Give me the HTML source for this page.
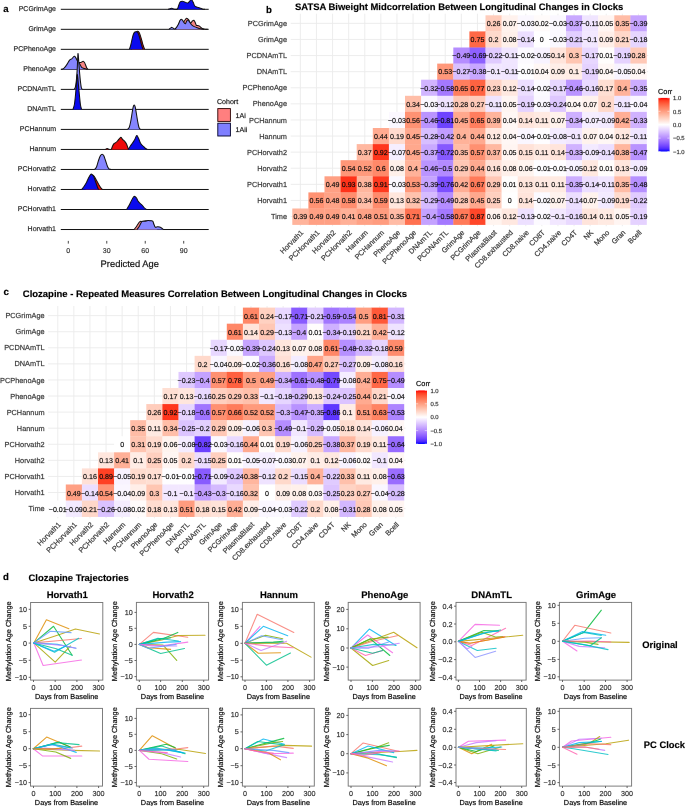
<!DOCTYPE html>
<html><head><meta charset="utf-8"><style>
html,body{margin:0;padding:0;background:#fff;}
svg{display:block;font-family:"Liberation Sans", sans-serif;will-change:transform;}
text{text-rendering:geometricPrecision;stroke:#000;stroke-opacity:0.45;stroke-width:0.35px;}
</style></head><body>
<svg width="685" height="806" viewBox="0 0 685 806">
<rect width="685" height="806" fill="#fff"/>
<text x="265.90" y="12.60" font-size="9.6" text-anchor="start" font-weight="bold" fill="#000">b</text>
<text x="295.00" y="10.20" font-size="9.45" text-anchor="start" font-weight="bold" fill="#000">SATSA Biweight Midcorrelation Between Longitudinal Changes in Clocks</text>
<line x1="300.35" y1="13.69" x2="300.35" y2="226.21" stroke="#ebebeb" stroke-width="0.9"/>
<line x1="316.45" y1="13.69" x2="316.45" y2="226.21" stroke="#ebebeb" stroke-width="0.9"/>
<line x1="332.55" y1="13.69" x2="332.55" y2="226.21" stroke="#ebebeb" stroke-width="0.9"/>
<line x1="348.65" y1="13.69" x2="348.65" y2="226.21" stroke="#ebebeb" stroke-width="0.9"/>
<line x1="364.75" y1="13.69" x2="364.75" y2="226.21" stroke="#ebebeb" stroke-width="0.9"/>
<line x1="380.85" y1="13.69" x2="380.85" y2="226.21" stroke="#ebebeb" stroke-width="0.9"/>
<line x1="396.95" y1="13.69" x2="396.95" y2="226.21" stroke="#ebebeb" stroke-width="0.9"/>
<line x1="413.05" y1="13.69" x2="413.05" y2="226.21" stroke="#ebebeb" stroke-width="0.9"/>
<line x1="429.15" y1="13.69" x2="429.15" y2="226.21" stroke="#ebebeb" stroke-width="0.9"/>
<line x1="445.25" y1="13.69" x2="445.25" y2="226.21" stroke="#ebebeb" stroke-width="0.9"/>
<line x1="461.35" y1="13.69" x2="461.35" y2="226.21" stroke="#ebebeb" stroke-width="0.9"/>
<line x1="477.45" y1="13.69" x2="477.45" y2="226.21" stroke="#ebebeb" stroke-width="0.9"/>
<line x1="493.55" y1="13.69" x2="493.55" y2="226.21" stroke="#ebebeb" stroke-width="0.9"/>
<line x1="509.65" y1="13.69" x2="509.65" y2="226.21" stroke="#ebebeb" stroke-width="0.9"/>
<line x1="525.75" y1="13.69" x2="525.75" y2="226.21" stroke="#ebebeb" stroke-width="0.9"/>
<line x1="541.85" y1="13.69" x2="541.85" y2="226.21" stroke="#ebebeb" stroke-width="0.9"/>
<line x1="557.95" y1="13.69" x2="557.95" y2="226.21" stroke="#ebebeb" stroke-width="0.9"/>
<line x1="574.05" y1="13.69" x2="574.05" y2="226.21" stroke="#ebebeb" stroke-width="0.9"/>
<line x1="590.15" y1="13.69" x2="590.15" y2="226.21" stroke="#ebebeb" stroke-width="0.9"/>
<line x1="606.25" y1="13.69" x2="606.25" y2="226.21" stroke="#ebebeb" stroke-width="0.9"/>
<line x1="622.35" y1="13.69" x2="622.35" y2="226.21" stroke="#ebebeb" stroke-width="0.9"/>
<line x1="638.45" y1="13.69" x2="638.45" y2="226.21" stroke="#ebebeb" stroke-width="0.9"/>
<line x1="290.69" y1="23.35" x2="648.11" y2="23.35" stroke="#ebebeb" stroke-width="0.9"/>
<line x1="290.69" y1="39.45" x2="648.11" y2="39.45" stroke="#ebebeb" stroke-width="0.9"/>
<line x1="290.69" y1="55.55" x2="648.11" y2="55.55" stroke="#ebebeb" stroke-width="0.9"/>
<line x1="290.69" y1="71.65" x2="648.11" y2="71.65" stroke="#ebebeb" stroke-width="0.9"/>
<line x1="290.69" y1="87.75" x2="648.11" y2="87.75" stroke="#ebebeb" stroke-width="0.9"/>
<line x1="290.69" y1="103.85" x2="648.11" y2="103.85" stroke="#ebebeb" stroke-width="0.9"/>
<line x1="290.69" y1="119.95" x2="648.11" y2="119.95" stroke="#ebebeb" stroke-width="0.9"/>
<line x1="290.69" y1="136.05" x2="648.11" y2="136.05" stroke="#ebebeb" stroke-width="0.9"/>
<line x1="290.69" y1="152.15" x2="648.11" y2="152.15" stroke="#ebebeb" stroke-width="0.9"/>
<line x1="290.69" y1="168.25" x2="648.11" y2="168.25" stroke="#ebebeb" stroke-width="0.9"/>
<line x1="290.69" y1="184.35" x2="648.11" y2="184.35" stroke="#ebebeb" stroke-width="0.9"/>
<line x1="290.69" y1="200.45" x2="648.11" y2="200.45" stroke="#ebebeb" stroke-width="0.9"/>
<line x1="290.69" y1="216.55" x2="648.11" y2="216.55" stroke="#ebebeb" stroke-width="0.9"/>
<rect x="485.50" y="15.30" width="16.40" height="16.40" fill="#ffcdbc"/>
<rect x="501.60" y="15.30" width="16.40" height="16.40" fill="#fff2ed"/>
<rect x="517.70" y="15.30" width="16.40" height="16.40" fill="#fbf8ff"/>
<rect x="533.80" y="15.30" width="16.40" height="16.40" fill="#fffbfa"/>
<rect x="549.90" y="15.30" width="16.40" height="16.40" fill="#fbf8ff"/>
<rect x="566.00" y="15.30" width="16.40" height="16.40" fill="#c9a9ff"/>
<rect x="582.10" y="15.30" width="16.40" height="16.40" fill="#f0e5ff"/>
<rect x="598.20" y="15.30" width="16.40" height="16.40" fill="#fff5f2"/>
<rect x="614.30" y="15.30" width="16.40" height="16.40" fill="#ffbca6"/>
<rect x="630.40" y="15.30" width="16.40" height="16.40" fill="#c6a4ff"/>
<rect x="469.40" y="31.40" width="16.40" height="16.40" fill="#ff6846"/>
<rect x="485.50" y="31.40" width="16.40" height="16.40" fill="#ffd9cb"/>
<rect x="501.60" y="31.40" width="16.40" height="16.40" fill="#fff0ea"/>
<rect x="517.70" y="31.40" width="16.40" height="16.40" fill="#ecdeff"/>
<rect x="533.80" y="31.40" width="16.40" height="16.40" fill="#ffffff"/>
<rect x="549.90" y="31.40" width="16.40" height="16.40" fill="#fbf8ff"/>
<rect x="566.00" y="31.40" width="16.40" height="16.40" fill="#e2ceff"/>
<rect x="582.10" y="31.40" width="16.40" height="16.40" fill="#f2e7ff"/>
<rect x="598.20" y="31.40" width="16.40" height="16.40" fill="#ffeee8"/>
<rect x="614.30" y="31.40" width="16.40" height="16.40" fill="#ffd7c9"/>
<rect x="630.40" y="31.40" width="16.40" height="16.40" fill="#e6d5ff"/>
<rect x="453.30" y="47.50" width="16.40" height="16.40" fill="#b58dff"/>
<rect x="469.40" y="47.50" width="16.40" height="16.40" fill="#8d60ff"/>
<rect x="485.50" y="47.50" width="16.40" height="16.40" fill="#e0cbff"/>
<rect x="501.60" y="47.50" width="16.40" height="16.40" fill="#f0e5ff"/>
<rect x="517.70" y="47.50" width="16.40" height="16.40" fill="#fcfaff"/>
<rect x="533.80" y="47.50" width="16.40" height="16.40" fill="#f8f3ff"/>
<rect x="549.90" y="47.50" width="16.40" height="16.40" fill="#ffe4db"/>
<rect x="566.00" y="47.50" width="16.40" height="16.40" fill="#ffc6b2"/>
<rect x="582.10" y="47.50" width="16.40" height="16.40" fill="#e8d7ff"/>
<rect x="598.20" y="47.50" width="16.40" height="16.40" fill="#fffdfc"/>
<rect x="614.30" y="47.50" width="16.40" height="16.40" fill="#e5d2ff"/>
<rect x="630.40" y="47.50" width="16.40" height="16.40" fill="#ffc9b7"/>
<rect x="437.20" y="63.60" width="16.40" height="16.40" fill="#ff987a"/>
<rect x="453.30" y="63.60" width="16.40" height="16.40" fill="#d9c0ff"/>
<rect x="469.40" y="63.60" width="16.40" height="16.40" fill="#c8a7ff"/>
<rect x="485.50" y="63.60" width="16.40" height="16.40" fill="#f2e7ff"/>
<rect x="501.60" y="63.60" width="16.40" height="16.40" fill="#f0e5ff"/>
<rect x="517.70" y="63.60" width="16.40" height="16.40" fill="#fefdff"/>
<rect x="533.80" y="63.60" width="16.40" height="16.40" fill="#fff7f5"/>
<rect x="549.90" y="63.60" width="16.40" height="16.40" fill="#ffeee8"/>
<rect x="566.00" y="63.60" width="16.40" height="16.40" fill="#ffece5"/>
<rect x="582.10" y="63.60" width="16.40" height="16.40" fill="#e5d2ff"/>
<rect x="598.20" y="63.60" width="16.40" height="16.40" fill="#fff7f5"/>
<rect x="614.30" y="63.60" width="16.40" height="16.40" fill="#f8f3ff"/>
<rect x="630.40" y="63.60" width="16.40" height="16.40" fill="#fff7f5"/>
<rect x="421.10" y="79.70" width="16.40" height="16.40" fill="#d1b4ff"/>
<rect x="437.20" y="79.70" width="16.40" height="16.40" fill="#a479ff"/>
<rect x="453.30" y="79.70" width="16.40" height="16.40" fill="#ff7e5e"/>
<rect x="469.40" y="79.70" width="16.40" height="16.40" fill="#ff6341"/>
<rect x="485.50" y="79.70" width="16.40" height="16.40" fill="#ffd3c4"/>
<rect x="501.60" y="79.70" width="16.40" height="16.40" fill="#ffe8e0"/>
<rect x="517.70" y="79.70" width="16.40" height="16.40" fill="#ecdeff"/>
<rect x="533.80" y="79.70" width="16.40" height="16.40" fill="#fcfaff"/>
<rect x="549.90" y="79.70" width="16.40" height="16.40" fill="#e8d7ff"/>
<rect x="566.00" y="79.70" width="16.40" height="16.40" fill="#ba94ff"/>
<rect x="582.10" y="79.70" width="16.40" height="16.40" fill="#e9d9ff"/>
<rect x="598.20" y="79.70" width="16.40" height="16.40" fill="#ffdfd3"/>
<rect x="614.30" y="79.70" width="16.40" height="16.40" fill="#ffb299"/>
<rect x="630.40" y="79.70" width="16.40" height="16.40" fill="#ccadff"/>
<rect x="405.00" y="95.80" width="16.40" height="16.40" fill="#ffbea8"/>
<rect x="421.10" y="95.80" width="16.40" height="16.40" fill="#fbf8ff"/>
<rect x="437.20" y="95.80" width="16.40" height="16.40" fill="#efe3ff"/>
<rect x="453.30" y="95.80" width="16.40" height="16.40" fill="#ffc9b7"/>
<rect x="469.40" y="95.80" width="16.40" height="16.40" fill="#ffcbba"/>
<rect x="485.50" y="95.80" width="16.40" height="16.40" fill="#f0e5ff"/>
<rect x="501.60" y="95.80" width="16.40" height="16.40" fill="#fff5f2"/>
<rect x="517.70" y="95.80" width="16.40" height="16.40" fill="#e5d2ff"/>
<rect x="533.80" y="95.80" width="16.40" height="16.40" fill="#fbf8ff"/>
<rect x="549.90" y="95.80" width="16.40" height="16.40" fill="#dec7ff"/>
<rect x="566.00" y="95.80" width="16.40" height="16.40" fill="#fff7f5"/>
<rect x="582.10" y="95.80" width="16.40" height="16.40" fill="#fff2ed"/>
<rect x="598.20" y="95.80" width="16.40" height="16.40" fill="#ffd9cb"/>
<rect x="614.30" y="95.80" width="16.40" height="16.40" fill="#f0e5ff"/>
<rect x="630.40" y="95.80" width="16.40" height="16.40" fill="#faf6ff"/>
<rect x="388.90" y="111.90" width="16.40" height="16.40" fill="#fbf8ff"/>
<rect x="405.00" y="111.90" width="16.40" height="16.40" fill="#ff9273"/>
<rect x="421.10" y="111.90" width="16.40" height="16.40" fill="#ba94ff"/>
<rect x="437.20" y="111.90" width="16.40" height="16.40" fill="#6e43ff"/>
<rect x="453.30" y="111.90" width="16.40" height="16.40" fill="#ffa88d"/>
<rect x="469.40" y="111.90" width="16.40" height="16.40" fill="#ff7e5e"/>
<rect x="485.50" y="111.90" width="16.40" height="16.40" fill="#ffb49c"/>
<rect x="501.60" y="111.90" width="16.40" height="16.40" fill="#fff7f5"/>
<rect x="517.70" y="111.90" width="16.40" height="16.40" fill="#ffe4db"/>
<rect x="533.80" y="111.90" width="16.40" height="16.40" fill="#ffeae2"/>
<rect x="549.90" y="111.90" width="16.40" height="16.40" fill="#fff2ed"/>
<rect x="566.00" y="111.90" width="16.40" height="16.40" fill="#ceb0ff"/>
<rect x="582.10" y="111.90" width="16.40" height="16.40" fill="#f6eeff"/>
<rect x="598.20" y="111.90" width="16.40" height="16.40" fill="#f3eaff"/>
<rect x="614.30" y="111.90" width="16.40" height="16.40" fill="#ffae95"/>
<rect x="630.40" y="111.90" width="16.40" height="16.40" fill="#d0b2ff"/>
<rect x="372.80" y="128.00" width="16.40" height="16.40" fill="#ffaa90"/>
<rect x="388.90" y="128.00" width="16.40" height="16.40" fill="#ffdbce"/>
<rect x="405.00" y="128.00" width="16.40" height="16.40" fill="#ffa88d"/>
<rect x="421.10" y="128.00" width="16.40" height="16.40" fill="#d7beff"/>
<rect x="437.20" y="128.00" width="16.40" height="16.40" fill="#c19dff"/>
<rect x="453.30" y="128.00" width="16.40" height="16.40" fill="#ffb299"/>
<rect x="469.40" y="128.00" width="16.40" height="16.40" fill="#ffaa90"/>
<rect x="485.50" y="128.00" width="16.40" height="16.40" fill="#ffe8e0"/>
<rect x="501.60" y="128.00" width="16.40" height="16.40" fill="#fff7f5"/>
<rect x="517.70" y="128.00" width="16.40" height="16.40" fill="#faf6ff"/>
<rect x="533.80" y="128.00" width="16.40" height="16.40" fill="#fefdff"/>
<rect x="549.90" y="128.00" width="16.40" height="16.40" fill="#f4ecff"/>
<rect x="566.00" y="128.00" width="16.40" height="16.40" fill="#f2e7ff"/>
<rect x="582.10" y="128.00" width="16.40" height="16.40" fill="#fff2ed"/>
<rect x="598.20" y="128.00" width="16.40" height="16.40" fill="#fff7f5"/>
<rect x="614.30" y="128.00" width="16.40" height="16.40" fill="#ffe8e0"/>
<rect x="630.40" y="128.00" width="16.40" height="16.40" fill="#f0e5ff"/>
<rect x="356.70" y="144.10" width="16.40" height="16.40" fill="#ffb8a1"/>
<rect x="372.80" y="144.10" width="16.40" height="16.40" fill="#ff361c"/>
<rect x="388.90" y="144.10" width="16.40" height="16.40" fill="#f6eeff"/>
<rect x="405.00" y="144.10" width="16.40" height="16.40" fill="#ffa88d"/>
<rect x="421.10" y="144.10" width="16.40" height="16.40" fill="#c9a9ff"/>
<rect x="437.20" y="144.10" width="16.40" height="16.40" fill="#8659ff"/>
<rect x="453.30" y="144.10" width="16.40" height="16.40" fill="#ffbca6"/>
<rect x="469.40" y="144.10" width="16.40" height="16.40" fill="#ff9071"/>
<rect x="485.50" y="144.10" width="16.40" height="16.40" fill="#ffb8a1"/>
<rect x="501.60" y="144.10" width="16.40" height="16.40" fill="#fff5f2"/>
<rect x="517.70" y="144.10" width="16.40" height="16.40" fill="#ffe2d8"/>
<rect x="533.80" y="144.10" width="16.40" height="16.40" fill="#ffeae2"/>
<rect x="549.90" y="144.10" width="16.40" height="16.40" fill="#ffe4db"/>
<rect x="566.00" y="144.10" width="16.40" height="16.40" fill="#d0b2ff"/>
<rect x="582.10" y="144.10" width="16.40" height="16.40" fill="#f3eaff"/>
<rect x="598.20" y="144.10" width="16.40" height="16.40" fill="#ecdeff"/>
<rect x="614.30" y="144.10" width="16.40" height="16.40" fill="#ffb69e"/>
<rect x="630.40" y="144.10" width="16.40" height="16.40" fill="#b892ff"/>
<rect x="340.60" y="160.20" width="16.40" height="16.40" fill="#ff9678"/>
<rect x="356.70" y="160.20" width="16.40" height="16.40" fill="#ff9a7c"/>
<rect x="372.80" y="160.20" width="16.40" height="16.40" fill="#ff8969"/>
<rect x="388.90" y="160.20" width="16.40" height="16.40" fill="#fff0ea"/>
<rect x="405.00" y="160.20" width="16.40" height="16.40" fill="#ffb299"/>
<rect x="421.10" y="160.20" width="16.40" height="16.40" fill="#ba94ff"/>
<rect x="437.20" y="160.20" width="16.40" height="16.40" fill="#b38bff"/>
<rect x="453.30" y="160.20" width="16.40" height="16.40" fill="#ffc7b5"/>
<rect x="469.40" y="160.20" width="16.40" height="16.40" fill="#ffaa90"/>
<rect x="485.50" y="160.20" width="16.40" height="16.40" fill="#ffe0d6"/>
<rect x="501.60" y="160.20" width="16.40" height="16.40" fill="#fff0ea"/>
<rect x="517.70" y="160.20" width="16.40" height="16.40" fill="#fff4ef"/>
<rect x="533.80" y="160.20" width="16.40" height="16.40" fill="#fefdff"/>
<rect x="549.90" y="160.20" width="16.40" height="16.40" fill="#fefdff"/>
<rect x="566.00" y="160.20" width="16.40" height="16.40" fill="#f8f3ff"/>
<rect x="582.10" y="160.20" width="16.40" height="16.40" fill="#ffe8e0"/>
<rect x="598.20" y="160.20" width="16.40" height="16.40" fill="#fffdfc"/>
<rect x="614.30" y="160.20" width="16.40" height="16.40" fill="#ffe6dd"/>
<rect x="630.40" y="160.20" width="16.40" height="16.40" fill="#f3eaff"/>
<rect x="324.50" y="176.30" width="16.40" height="16.40" fill="#ffa084"/>
<rect x="340.60" y="176.30" width="16.40" height="16.40" fill="#ff3219"/>
<rect x="356.70" y="176.30" width="16.40" height="16.40" fill="#ffb69e"/>
<rect x="372.80" y="176.30" width="16.40" height="16.40" fill="#ff3a1f"/>
<rect x="388.90" y="176.30" width="16.40" height="16.40" fill="#fbf8ff"/>
<rect x="405.00" y="176.30" width="16.40" height="16.40" fill="#ff987a"/>
<rect x="421.10" y="176.30" width="16.40" height="16.40" fill="#c6a4ff"/>
<rect x="437.20" y="176.30" width="16.40" height="16.40" fill="#7c4fff"/>
<rect x="453.30" y="176.30" width="16.40" height="16.40" fill="#ffae95"/>
<rect x="469.40" y="176.30" width="16.40" height="16.40" fill="#ff7a59"/>
<rect x="485.50" y="176.30" width="16.40" height="16.40" fill="#ffc7b5"/>
<rect x="501.60" y="176.30" width="16.40" height="16.40" fill="#fffdfc"/>
<rect x="517.70" y="176.30" width="16.40" height="16.40" fill="#ffe6dd"/>
<rect x="533.80" y="176.30" width="16.40" height="16.40" fill="#ffeae2"/>
<rect x="549.90" y="176.30" width="16.40" height="16.40" fill="#ffeae2"/>
<rect x="566.00" y="176.30" width="16.40" height="16.40" fill="#ccadff"/>
<rect x="582.10" y="176.30" width="16.40" height="16.40" fill="#ecdeff"/>
<rect x="598.20" y="176.30" width="16.40" height="16.40" fill="#f0e5ff"/>
<rect x="614.30" y="176.30" width="16.40" height="16.40" fill="#ffbca6"/>
<rect x="630.40" y="176.30" width="16.40" height="16.40" fill="#b690ff"/>
<rect x="308.40" y="192.40" width="16.40" height="16.40" fill="#ff9273"/>
<rect x="324.50" y="192.40" width="16.40" height="16.40" fill="#ffa286"/>
<rect x="340.60" y="192.40" width="16.40" height="16.40" fill="#ff8d6e"/>
<rect x="356.70" y="192.40" width="16.40" height="16.40" fill="#ffbea8"/>
<rect x="372.80" y="192.40" width="16.40" height="16.40" fill="#ff8b6c"/>
<rect x="388.90" y="192.40" width="16.40" height="16.40" fill="#ffe6dd"/>
<rect x="405.00" y="192.40" width="16.40" height="16.40" fill="#ffc2ad"/>
<rect x="421.10" y="192.40" width="16.40" height="16.40" fill="#d6bbff"/>
<rect x="437.20" y="192.40" width="16.40" height="16.40" fill="#b58dff"/>
<rect x="453.30" y="192.40" width="16.40" height="16.40" fill="#ffc9b7"/>
<rect x="469.40" y="192.40" width="16.40" height="16.40" fill="#ffa88d"/>
<rect x="485.50" y="192.40" width="16.40" height="16.40" fill="#ffcfbf"/>
<rect x="501.60" y="192.40" width="16.40" height="16.40" fill="#ffffff"/>
<rect x="517.70" y="192.40" width="16.40" height="16.40" fill="#ffe4db"/>
<rect x="533.80" y="192.40" width="16.40" height="16.40" fill="#fcfaff"/>
<rect x="549.90" y="192.40" width="16.40" height="16.40" fill="#fff2ed"/>
<rect x="566.00" y="192.40" width="16.40" height="16.40" fill="#ecdeff"/>
<rect x="582.10" y="192.40" width="16.40" height="16.40" fill="#fff2ed"/>
<rect x="598.20" y="192.40" width="16.40" height="16.40" fill="#f3eaff"/>
<rect x="614.30" y="192.40" width="16.40" height="16.40" fill="#ffdbce"/>
<rect x="630.40" y="192.40" width="16.40" height="16.40" fill="#e0cbff"/>
<rect x="292.30" y="208.50" width="16.40" height="16.40" fill="#ffb49c"/>
<rect x="308.40" y="208.50" width="16.40" height="16.40" fill="#ffa084"/>
<rect x="324.50" y="208.50" width="16.40" height="16.40" fill="#ffa084"/>
<rect x="340.60" y="208.50" width="16.40" height="16.40" fill="#ffb097"/>
<rect x="356.70" y="208.50" width="16.40" height="16.40" fill="#ffa286"/>
<rect x="372.80" y="208.50" width="16.40" height="16.40" fill="#ff9c7f"/>
<rect x="388.90" y="208.50" width="16.40" height="16.40" fill="#ffbca6"/>
<rect x="405.00" y="208.50" width="16.40" height="16.40" fill="#ff7150"/>
<rect x="421.10" y="208.50" width="16.40" height="16.40" fill="#c4a2ff"/>
<rect x="437.20" y="208.50" width="16.40" height="16.40" fill="#a479ff"/>
<rect x="453.30" y="208.50" width="16.40" height="16.40" fill="#ff7a59"/>
<rect x="469.40" y="208.50" width="16.40" height="16.40" fill="#ff4729"/>
<rect x="485.50" y="208.50" width="16.40" height="16.40" fill="#fff4ef"/>
<rect x="501.60" y="208.50" width="16.40" height="16.40" fill="#ffe8e0"/>
<rect x="517.70" y="208.50" width="16.40" height="16.40" fill="#ede0ff"/>
<rect x="533.80" y="208.50" width="16.40" height="16.40" fill="#fcfaff"/>
<rect x="549.90" y="208.50" width="16.40" height="16.40" fill="#f2e7ff"/>
<rect x="566.00" y="208.50" width="16.40" height="16.40" fill="#e9d9ff"/>
<rect x="582.10" y="208.50" width="16.40" height="16.40" fill="#ffe4db"/>
<rect x="598.20" y="208.50" width="16.40" height="16.40" fill="#ffeae2"/>
<rect x="614.30" y="208.50" width="16.40" height="16.40" fill="#fff5f2"/>
<rect x="630.40" y="208.50" width="16.40" height="16.40" fill="#e5d2ff"/>
<text x="493.55" y="26.15" font-size="7.1" text-anchor="middle" fill="#111">0.26</text>
<text x="509.65" y="26.15" font-size="7.1" text-anchor="middle" fill="#111">0.07</text>
<text x="525.75" y="26.15" font-size="7.1" text-anchor="middle" fill="#111">−0.03</text>
<text x="541.85" y="26.15" font-size="7.1" text-anchor="middle" fill="#111">0.02</text>
<text x="557.95" y="26.15" font-size="7.1" text-anchor="middle" fill="#111">−0.03</text>
<text x="574.05" y="26.15" font-size="7.1" text-anchor="middle" fill="#111">−0.37</text>
<text x="590.15" y="26.15" font-size="7.1" text-anchor="middle" fill="#111">−0.11</text>
<text x="606.25" y="26.15" font-size="7.1" text-anchor="middle" fill="#111">0.05</text>
<text x="622.35" y="26.15" font-size="7.1" text-anchor="middle" fill="#111">0.35</text>
<text x="638.45" y="26.15" font-size="7.1" text-anchor="middle" fill="#111">−0.39</text>
<text x="477.45" y="42.25" font-size="7.1" text-anchor="middle" fill="#111">0.75</text>
<text x="493.55" y="42.25" font-size="7.1" text-anchor="middle" fill="#111">0.2</text>
<text x="509.65" y="42.25" font-size="7.1" text-anchor="middle" fill="#111">0.08</text>
<text x="525.75" y="42.25" font-size="7.1" text-anchor="middle" fill="#111">−0.14</text>
<text x="541.85" y="42.25" font-size="7.1" text-anchor="middle" fill="#111">0</text>
<text x="557.95" y="42.25" font-size="7.1" text-anchor="middle" fill="#111">−0.03</text>
<text x="574.05" y="42.25" font-size="7.1" text-anchor="middle" fill="#111">−0.21</text>
<text x="590.15" y="42.25" font-size="7.1" text-anchor="middle" fill="#111">−0.1</text>
<text x="606.25" y="42.25" font-size="7.1" text-anchor="middle" fill="#111">0.09</text>
<text x="622.35" y="42.25" font-size="7.1" text-anchor="middle" fill="#111">0.21</text>
<text x="638.45" y="42.25" font-size="7.1" text-anchor="middle" fill="#111">−0.18</text>
<text x="461.35" y="58.35" font-size="7.1" text-anchor="middle" fill="#111">−0.49</text>
<text x="477.45" y="58.35" font-size="7.1" text-anchor="middle" fill="#111">−0.69</text>
<text x="493.55" y="58.35" font-size="7.1" text-anchor="middle" fill="#111">−0.22</text>
<text x="509.65" y="58.35" font-size="7.1" text-anchor="middle" fill="#111">−0.11</text>
<text x="525.75" y="58.35" font-size="7.1" text-anchor="middle" fill="#111">−0.02</text>
<text x="541.85" y="58.35" font-size="7.1" text-anchor="middle" fill="#111">−0.05</text>
<text x="557.95" y="58.35" font-size="7.1" text-anchor="middle" fill="#111">0.14</text>
<text x="574.05" y="58.35" font-size="7.1" text-anchor="middle" fill="#111">0.3</text>
<text x="590.15" y="58.35" font-size="7.1" text-anchor="middle" fill="#111">−0.17</text>
<text x="606.25" y="58.35" font-size="7.1" text-anchor="middle" fill="#111">0.01</text>
<text x="622.35" y="58.35" font-size="7.1" text-anchor="middle" fill="#111">−0.19</text>
<text x="638.45" y="58.35" font-size="7.1" text-anchor="middle" fill="#111">0.28</text>
<text x="445.25" y="74.45" font-size="7.1" text-anchor="middle" fill="#111">0.53</text>
<text x="461.35" y="74.45" font-size="7.1" text-anchor="middle" fill="#111">−0.27</text>
<text x="477.45" y="74.45" font-size="7.1" text-anchor="middle" fill="#111">−0.38</text>
<text x="493.55" y="74.45" font-size="7.1" text-anchor="middle" fill="#111">−0.1</text>
<text x="509.65" y="74.45" font-size="7.1" text-anchor="middle" fill="#111">−0.11</text>
<text x="525.75" y="74.45" font-size="7.1" text-anchor="middle" fill="#111">−0.01</text>
<text x="541.85" y="74.45" font-size="7.1" text-anchor="middle" fill="#111">0.04</text>
<text x="557.95" y="74.45" font-size="7.1" text-anchor="middle" fill="#111">0.09</text>
<text x="574.05" y="74.45" font-size="7.1" text-anchor="middle" fill="#111">0.1</text>
<text x="590.15" y="74.45" font-size="7.1" text-anchor="middle" fill="#111">−0.19</text>
<text x="606.25" y="74.45" font-size="7.1" text-anchor="middle" fill="#111">0.04</text>
<text x="622.35" y="74.45" font-size="7.1" text-anchor="middle" fill="#111">−0.05</text>
<text x="638.45" y="74.45" font-size="7.1" text-anchor="middle" fill="#111">0.04</text>
<text x="429.15" y="90.55" font-size="7.1" text-anchor="middle" fill="#111">−0.32</text>
<text x="445.25" y="90.55" font-size="7.1" text-anchor="middle" fill="#111">−0.58</text>
<text x="461.35" y="90.55" font-size="7.1" text-anchor="middle" fill="#111">0.65</text>
<text x="477.45" y="90.55" font-size="7.1" text-anchor="middle" fill="#111">0.77</text>
<text x="493.55" y="90.55" font-size="7.1" text-anchor="middle" fill="#111">0.23</text>
<text x="509.65" y="90.55" font-size="7.1" text-anchor="middle" fill="#111">0.12</text>
<text x="525.75" y="90.55" font-size="7.1" text-anchor="middle" fill="#111">−0.14</text>
<text x="541.85" y="90.55" font-size="7.1" text-anchor="middle" fill="#111">−0.02</text>
<text x="557.95" y="90.55" font-size="7.1" text-anchor="middle" fill="#111">−0.17</text>
<text x="574.05" y="90.55" font-size="7.1" text-anchor="middle" fill="#111">−0.46</text>
<text x="590.15" y="90.55" font-size="7.1" text-anchor="middle" fill="#111">−0.16</text>
<text x="606.25" y="90.55" font-size="7.1" text-anchor="middle" fill="#111">0.17</text>
<text x="622.35" y="90.55" font-size="7.1" text-anchor="middle" fill="#111">0.4</text>
<text x="638.45" y="90.55" font-size="7.1" text-anchor="middle" fill="#111">−0.35</text>
<text x="413.05" y="106.65" font-size="7.1" text-anchor="middle" fill="#111">0.34</text>
<text x="429.15" y="106.65" font-size="7.1" text-anchor="middle" fill="#111">−0.03</text>
<text x="445.25" y="106.65" font-size="7.1" text-anchor="middle" fill="#111">−0.12</text>
<text x="461.35" y="106.65" font-size="7.1" text-anchor="middle" fill="#111">0.28</text>
<text x="477.45" y="106.65" font-size="7.1" text-anchor="middle" fill="#111">0.27</text>
<text x="493.55" y="106.65" font-size="7.1" text-anchor="middle" fill="#111">−0.11</text>
<text x="509.65" y="106.65" font-size="7.1" text-anchor="middle" fill="#111">0.05</text>
<text x="525.75" y="106.65" font-size="7.1" text-anchor="middle" fill="#111">−0.19</text>
<text x="541.85" y="106.65" font-size="7.1" text-anchor="middle" fill="#111">−0.03</text>
<text x="557.95" y="106.65" font-size="7.1" text-anchor="middle" fill="#111">−0.24</text>
<text x="574.05" y="106.65" font-size="7.1" text-anchor="middle" fill="#111">0.04</text>
<text x="590.15" y="106.65" font-size="7.1" text-anchor="middle" fill="#111">0.07</text>
<text x="606.25" y="106.65" font-size="7.1" text-anchor="middle" fill="#111">0.2</text>
<text x="622.35" y="106.65" font-size="7.1" text-anchor="middle" fill="#111">−0.11</text>
<text x="638.45" y="106.65" font-size="7.1" text-anchor="middle" fill="#111">−0.04</text>
<text x="396.95" y="122.75" font-size="7.1" text-anchor="middle" fill="#111">−0.03</text>
<text x="413.05" y="122.75" font-size="7.1" text-anchor="middle" fill="#111">0.56</text>
<text x="429.15" y="122.75" font-size="7.1" text-anchor="middle" fill="#111">−0.46</text>
<text x="445.25" y="122.75" font-size="7.1" text-anchor="middle" fill="#111">−0.81</text>
<text x="461.35" y="122.75" font-size="7.1" text-anchor="middle" fill="#111">0.45</text>
<text x="477.45" y="122.75" font-size="7.1" text-anchor="middle" fill="#111">0.65</text>
<text x="493.55" y="122.75" font-size="7.1" text-anchor="middle" fill="#111">0.39</text>
<text x="509.65" y="122.75" font-size="7.1" text-anchor="middle" fill="#111">0.04</text>
<text x="525.75" y="122.75" font-size="7.1" text-anchor="middle" fill="#111">0.14</text>
<text x="541.85" y="122.75" font-size="7.1" text-anchor="middle" fill="#111">0.11</text>
<text x="557.95" y="122.75" font-size="7.1" text-anchor="middle" fill="#111">0.07</text>
<text x="574.05" y="122.75" font-size="7.1" text-anchor="middle" fill="#111">−0.34</text>
<text x="590.15" y="122.75" font-size="7.1" text-anchor="middle" fill="#111">−0.07</text>
<text x="606.25" y="122.75" font-size="7.1" text-anchor="middle" fill="#111">−0.09</text>
<text x="622.35" y="122.75" font-size="7.1" text-anchor="middle" fill="#111">0.42</text>
<text x="638.45" y="122.75" font-size="7.1" text-anchor="middle" fill="#111">−0.33</text>
<text x="380.85" y="138.85" font-size="7.1" text-anchor="middle" fill="#111">0.44</text>
<text x="396.95" y="138.85" font-size="7.1" text-anchor="middle" fill="#111">0.19</text>
<text x="413.05" y="138.85" font-size="7.1" text-anchor="middle" fill="#111">0.45</text>
<text x="429.15" y="138.85" font-size="7.1" text-anchor="middle" fill="#111">−0.28</text>
<text x="445.25" y="138.85" font-size="7.1" text-anchor="middle" fill="#111">−0.42</text>
<text x="461.35" y="138.85" font-size="7.1" text-anchor="middle" fill="#111">0.4</text>
<text x="477.45" y="138.85" font-size="7.1" text-anchor="middle" fill="#111">0.44</text>
<text x="493.55" y="138.85" font-size="7.1" text-anchor="middle" fill="#111">0.12</text>
<text x="509.65" y="138.85" font-size="7.1" text-anchor="middle" fill="#111">0.04</text>
<text x="525.75" y="138.85" font-size="7.1" text-anchor="middle" fill="#111">−0.04</text>
<text x="541.85" y="138.85" font-size="7.1" text-anchor="middle" fill="#111">−0.01</text>
<text x="557.95" y="138.85" font-size="7.1" text-anchor="middle" fill="#111">−0.08</text>
<text x="574.05" y="138.85" font-size="7.1" text-anchor="middle" fill="#111">−0.1</text>
<text x="590.15" y="138.85" font-size="7.1" text-anchor="middle" fill="#111">0.07</text>
<text x="606.25" y="138.85" font-size="7.1" text-anchor="middle" fill="#111">0.04</text>
<text x="622.35" y="138.85" font-size="7.1" text-anchor="middle" fill="#111">0.12</text>
<text x="638.45" y="138.85" font-size="7.1" text-anchor="middle" fill="#111">−0.11</text>
<text x="364.75" y="154.95" font-size="7.1" text-anchor="middle" fill="#111">0.37</text>
<text x="380.85" y="154.95" font-size="7.1" text-anchor="middle" fill="#111">0.92</text>
<text x="396.95" y="154.95" font-size="7.1" text-anchor="middle" fill="#111">−0.07</text>
<text x="413.05" y="154.95" font-size="7.1" text-anchor="middle" fill="#111">0.45</text>
<text x="429.15" y="154.95" font-size="7.1" text-anchor="middle" fill="#111">−0.37</text>
<text x="445.25" y="154.95" font-size="7.1" text-anchor="middle" fill="#111">−0.72</text>
<text x="461.35" y="154.95" font-size="7.1" text-anchor="middle" fill="#111">0.35</text>
<text x="477.45" y="154.95" font-size="7.1" text-anchor="middle" fill="#111">0.57</text>
<text x="493.55" y="154.95" font-size="7.1" text-anchor="middle" fill="#111">0.37</text>
<text x="509.65" y="154.95" font-size="7.1" text-anchor="middle" fill="#111">0.05</text>
<text x="525.75" y="154.95" font-size="7.1" text-anchor="middle" fill="#111">0.15</text>
<text x="541.85" y="154.95" font-size="7.1" text-anchor="middle" fill="#111">0.11</text>
<text x="557.95" y="154.95" font-size="7.1" text-anchor="middle" fill="#111">0.14</text>
<text x="574.05" y="154.95" font-size="7.1" text-anchor="middle" fill="#111">−0.33</text>
<text x="590.15" y="154.95" font-size="7.1" text-anchor="middle" fill="#111">−0.09</text>
<text x="606.25" y="154.95" font-size="7.1" text-anchor="middle" fill="#111">−0.14</text>
<text x="622.35" y="154.95" font-size="7.1" text-anchor="middle" fill="#111">0.38</text>
<text x="638.45" y="154.95" font-size="7.1" text-anchor="middle" fill="#111">−0.47</text>
<text x="348.65" y="171.05" font-size="7.1" text-anchor="middle" fill="#111">0.54</text>
<text x="364.75" y="171.05" font-size="7.1" text-anchor="middle" fill="#111">0.52</text>
<text x="380.85" y="171.05" font-size="7.1" text-anchor="middle" fill="#111">0.6</text>
<text x="396.95" y="171.05" font-size="7.1" text-anchor="middle" fill="#111">0.08</text>
<text x="413.05" y="171.05" font-size="7.1" text-anchor="middle" fill="#111">0.4</text>
<text x="429.15" y="171.05" font-size="7.1" text-anchor="middle" fill="#111">−0.46</text>
<text x="445.25" y="171.05" font-size="7.1" text-anchor="middle" fill="#111">−0.5</text>
<text x="461.35" y="171.05" font-size="7.1" text-anchor="middle" fill="#111">0.29</text>
<text x="477.45" y="171.05" font-size="7.1" text-anchor="middle" fill="#111">0.44</text>
<text x="493.55" y="171.05" font-size="7.1" text-anchor="middle" fill="#111">0.16</text>
<text x="509.65" y="171.05" font-size="7.1" text-anchor="middle" fill="#111">0.08</text>
<text x="525.75" y="171.05" font-size="7.1" text-anchor="middle" fill="#111">0.06</text>
<text x="541.85" y="171.05" font-size="7.1" text-anchor="middle" fill="#111">−0.01</text>
<text x="557.95" y="171.05" font-size="7.1" text-anchor="middle" fill="#111">−0.01</text>
<text x="574.05" y="171.05" font-size="7.1" text-anchor="middle" fill="#111">−0.05</text>
<text x="590.15" y="171.05" font-size="7.1" text-anchor="middle" fill="#111">0.12</text>
<text x="606.25" y="171.05" font-size="7.1" text-anchor="middle" fill="#111">0.01</text>
<text x="622.35" y="171.05" font-size="7.1" text-anchor="middle" fill="#111">0.13</text>
<text x="638.45" y="171.05" font-size="7.1" text-anchor="middle" fill="#111">−0.09</text>
<text x="332.55" y="187.15" font-size="7.1" text-anchor="middle" fill="#111">0.49</text>
<text x="348.65" y="187.15" font-size="7.1" text-anchor="middle" fill="#111">0.93</text>
<text x="364.75" y="187.15" font-size="7.1" text-anchor="middle" fill="#111">0.38</text>
<text x="380.85" y="187.15" font-size="7.1" text-anchor="middle" fill="#111">0.91</text>
<text x="396.95" y="187.15" font-size="7.1" text-anchor="middle" fill="#111">−0.03</text>
<text x="413.05" y="187.15" font-size="7.1" text-anchor="middle" fill="#111">0.53</text>
<text x="429.15" y="187.15" font-size="7.1" text-anchor="middle" fill="#111">−0.39</text>
<text x="445.25" y="187.15" font-size="7.1" text-anchor="middle" fill="#111">−0.76</text>
<text x="461.35" y="187.15" font-size="7.1" text-anchor="middle" fill="#111">0.42</text>
<text x="477.45" y="187.15" font-size="7.1" text-anchor="middle" fill="#111">0.67</text>
<text x="493.55" y="187.15" font-size="7.1" text-anchor="middle" fill="#111">0.29</text>
<text x="509.65" y="187.15" font-size="7.1" text-anchor="middle" fill="#111">0.01</text>
<text x="525.75" y="187.15" font-size="7.1" text-anchor="middle" fill="#111">0.13</text>
<text x="541.85" y="187.15" font-size="7.1" text-anchor="middle" fill="#111">0.11</text>
<text x="557.95" y="187.15" font-size="7.1" text-anchor="middle" fill="#111">0.11</text>
<text x="574.05" y="187.15" font-size="7.1" text-anchor="middle" fill="#111">−0.35</text>
<text x="590.15" y="187.15" font-size="7.1" text-anchor="middle" fill="#111">−0.14</text>
<text x="606.25" y="187.15" font-size="7.1" text-anchor="middle" fill="#111">−0.11</text>
<text x="622.35" y="187.15" font-size="7.1" text-anchor="middle" fill="#111">0.35</text>
<text x="638.45" y="187.15" font-size="7.1" text-anchor="middle" fill="#111">−0.48</text>
<text x="316.45" y="203.25" font-size="7.1" text-anchor="middle" fill="#111">0.56</text>
<text x="332.55" y="203.25" font-size="7.1" text-anchor="middle" fill="#111">0.48</text>
<text x="348.65" y="203.25" font-size="7.1" text-anchor="middle" fill="#111">0.58</text>
<text x="364.75" y="203.25" font-size="7.1" text-anchor="middle" fill="#111">0.34</text>
<text x="380.85" y="203.25" font-size="7.1" text-anchor="middle" fill="#111">0.59</text>
<text x="396.95" y="203.25" font-size="7.1" text-anchor="middle" fill="#111">0.13</text>
<text x="413.05" y="203.25" font-size="7.1" text-anchor="middle" fill="#111">0.32</text>
<text x="429.15" y="203.25" font-size="7.1" text-anchor="middle" fill="#111">−0.29</text>
<text x="445.25" y="203.25" font-size="7.1" text-anchor="middle" fill="#111">−0.49</text>
<text x="461.35" y="203.25" font-size="7.1" text-anchor="middle" fill="#111">0.28</text>
<text x="477.45" y="203.25" font-size="7.1" text-anchor="middle" fill="#111">0.45</text>
<text x="493.55" y="203.25" font-size="7.1" text-anchor="middle" fill="#111">0.25</text>
<text x="509.65" y="203.25" font-size="7.1" text-anchor="middle" fill="#111">0</text>
<text x="525.75" y="203.25" font-size="7.1" text-anchor="middle" fill="#111">0.14</text>
<text x="541.85" y="203.25" font-size="7.1" text-anchor="middle" fill="#111">−0.02</text>
<text x="557.95" y="203.25" font-size="7.1" text-anchor="middle" fill="#111">0.07</text>
<text x="574.05" y="203.25" font-size="7.1" text-anchor="middle" fill="#111">−0.14</text>
<text x="590.15" y="203.25" font-size="7.1" text-anchor="middle" fill="#111">0.07</text>
<text x="606.25" y="203.25" font-size="7.1" text-anchor="middle" fill="#111">−0.09</text>
<text x="622.35" y="203.25" font-size="7.1" text-anchor="middle" fill="#111">0.19</text>
<text x="638.45" y="203.25" font-size="7.1" text-anchor="middle" fill="#111">−0.22</text>
<text x="300.35" y="219.35" font-size="7.1" text-anchor="middle" fill="#111">0.39</text>
<text x="316.45" y="219.35" font-size="7.1" text-anchor="middle" fill="#111">0.49</text>
<text x="332.55" y="219.35" font-size="7.1" text-anchor="middle" fill="#111">0.49</text>
<text x="348.65" y="219.35" font-size="7.1" text-anchor="middle" fill="#111">0.41</text>
<text x="364.75" y="219.35" font-size="7.1" text-anchor="middle" fill="#111">0.48</text>
<text x="380.85" y="219.35" font-size="7.1" text-anchor="middle" fill="#111">0.51</text>
<text x="396.95" y="219.35" font-size="7.1" text-anchor="middle" fill="#111">0.35</text>
<text x="413.05" y="219.35" font-size="7.1" text-anchor="middle" fill="#111">0.71</text>
<text x="429.15" y="219.35" font-size="7.1" text-anchor="middle" fill="#111">−0.4</text>
<text x="445.25" y="219.35" font-size="7.1" text-anchor="middle" fill="#111">−0.58</text>
<text x="461.35" y="219.35" font-size="7.1" text-anchor="middle" fill="#111">0.67</text>
<text x="477.45" y="219.35" font-size="7.1" text-anchor="middle" fill="#111">0.87</text>
<text x="493.55" y="219.35" font-size="7.1" text-anchor="middle" fill="#111">0.06</text>
<text x="509.65" y="219.35" font-size="7.1" text-anchor="middle" fill="#111">0.12</text>
<text x="525.75" y="219.35" font-size="7.1" text-anchor="middle" fill="#111">−0.13</text>
<text x="541.85" y="219.35" font-size="7.1" text-anchor="middle" fill="#111">−0.02</text>
<text x="557.95" y="219.35" font-size="7.1" text-anchor="middle" fill="#111">−0.1</text>
<text x="574.05" y="219.35" font-size="7.1" text-anchor="middle" fill="#111">−0.16</text>
<text x="590.15" y="219.35" font-size="7.1" text-anchor="middle" fill="#111">0.14</text>
<text x="606.25" y="219.35" font-size="7.1" text-anchor="middle" fill="#111">0.11</text>
<text x="622.35" y="219.35" font-size="7.1" text-anchor="middle" fill="#111">0.05</text>
<text x="638.45" y="219.35" font-size="7.1" text-anchor="middle" fill="#111">−0.19</text>
<text x="287.00" y="25.95" font-size="7.35" text-anchor="end" fill="#4d4d4d">PCGrimAge</text>
<text x="287.00" y="42.05" font-size="7.35" text-anchor="end" fill="#4d4d4d">GrimAge</text>
<text x="287.00" y="58.15" font-size="7.35" text-anchor="end" fill="#4d4d4d">PCDNAmTL</text>
<text x="287.00" y="74.25" font-size="7.35" text-anchor="end" fill="#4d4d4d">DNAmTL</text>
<text x="287.00" y="90.35" font-size="7.35" text-anchor="end" fill="#4d4d4d">PCPhenoAge</text>
<text x="287.00" y="106.45" font-size="7.35" text-anchor="end" fill="#4d4d4d">PhenoAge</text>
<text x="287.00" y="122.55" font-size="7.35" text-anchor="end" fill="#4d4d4d">PCHannum</text>
<text x="287.00" y="138.65" font-size="7.35" text-anchor="end" fill="#4d4d4d">Hannum</text>
<text x="287.00" y="154.75" font-size="7.35" text-anchor="end" fill="#4d4d4d">PCHorvath2</text>
<text x="287.00" y="170.85" font-size="7.35" text-anchor="end" fill="#4d4d4d">Horvath2</text>
<text x="287.00" y="186.95" font-size="7.35" text-anchor="end" fill="#4d4d4d">PCHorvath1</text>
<text x="287.00" y="203.05" font-size="7.35" text-anchor="end" fill="#4d4d4d">Horvath1</text>
<text x="287.00" y="219.15" font-size="7.35" text-anchor="end" fill="#4d4d4d">Time</text>
<text transform="translate(300.35,229.40) rotate(-45)" font-size="7.35" text-anchor="end" fill="#4d4d4d" dy="0.7em">Horvath1</text>
<text transform="translate(316.45,229.40) rotate(-45)" font-size="7.35" text-anchor="end" fill="#4d4d4d" dy="0.7em">PCHorvath1</text>
<text transform="translate(332.55,229.40) rotate(-45)" font-size="7.35" text-anchor="end" fill="#4d4d4d" dy="0.7em">Horvath2</text>
<text transform="translate(348.65,229.40) rotate(-45)" font-size="7.35" text-anchor="end" fill="#4d4d4d" dy="0.7em">PCHorvath2</text>
<text transform="translate(364.75,229.40) rotate(-45)" font-size="7.35" text-anchor="end" fill="#4d4d4d" dy="0.7em">Hannum</text>
<text transform="translate(380.85,229.40) rotate(-45)" font-size="7.35" text-anchor="end" fill="#4d4d4d" dy="0.7em">PCHannum</text>
<text transform="translate(396.95,229.40) rotate(-45)" font-size="7.35" text-anchor="end" fill="#4d4d4d" dy="0.7em">PhenoAge</text>
<text transform="translate(413.05,229.40) rotate(-45)" font-size="7.35" text-anchor="end" fill="#4d4d4d" dy="0.7em">PCPhenoAge</text>
<text transform="translate(429.15,229.40) rotate(-45)" font-size="7.35" text-anchor="end" fill="#4d4d4d" dy="0.7em">DNAmTL</text>
<text transform="translate(445.25,229.40) rotate(-45)" font-size="7.35" text-anchor="end" fill="#4d4d4d" dy="0.7em">PCDNAmTL</text>
<text transform="translate(461.35,229.40) rotate(-45)" font-size="7.35" text-anchor="end" fill="#4d4d4d" dy="0.7em">GrimAge</text>
<text transform="translate(477.45,229.40) rotate(-45)" font-size="7.35" text-anchor="end" fill="#4d4d4d" dy="0.7em">PCGrimAge</text>
<text transform="translate(493.55,229.40) rotate(-45)" font-size="7.35" text-anchor="end" fill="#4d4d4d" dy="0.7em">PlasmaBlast</text>
<text transform="translate(509.65,229.40) rotate(-45)" font-size="7.35" text-anchor="end" fill="#4d4d4d" dy="0.7em">CD8.exhausted</text>
<text transform="translate(525.75,229.40) rotate(-45)" font-size="7.35" text-anchor="end" fill="#4d4d4d" dy="0.7em">CD8.naive</text>
<text transform="translate(541.85,229.40) rotate(-45)" font-size="7.35" text-anchor="end" fill="#4d4d4d" dy="0.7em">CD8T</text>
<text transform="translate(557.95,229.40) rotate(-45)" font-size="7.35" text-anchor="end" fill="#4d4d4d" dy="0.7em">CD4.naive</text>
<text transform="translate(574.05,229.40) rotate(-45)" font-size="7.35" text-anchor="end" fill="#4d4d4d" dy="0.7em">CD4T</text>
<text transform="translate(590.15,229.40) rotate(-45)" font-size="7.35" text-anchor="end" fill="#4d4d4d" dy="0.7em">NK</text>
<text transform="translate(606.25,229.40) rotate(-45)" font-size="7.35" text-anchor="end" fill="#4d4d4d" dy="0.7em">Mono</text>
<text transform="translate(622.35,229.40) rotate(-45)" font-size="7.35" text-anchor="end" fill="#4d4d4d" dy="0.7em">Gran</text>
<text transform="translate(638.45,229.40) rotate(-45)" font-size="7.35" text-anchor="end" fill="#4d4d4d" dy="0.7em">Bcell</text>
<defs><linearGradient id="g488" x1="0" y1="0" x2="0" y2="1"><stop offset="0.000" stop-color="#ff0000"/><stop offset="0.050" stop-color="#ff3e22"/><stop offset="0.100" stop-color="#ff5b3a"/><stop offset="0.150" stop-color="#ff7352"/><stop offset="0.200" stop-color="#ff8969"/><stop offset="0.250" stop-color="#ff9e81"/><stop offset="0.300" stop-color="#ffb299"/><stop offset="0.350" stop-color="#ffc6b2"/><stop offset="0.400" stop-color="#ffd9cb"/><stop offset="0.450" stop-color="#ffece5"/><stop offset="0.500" stop-color="#ffffff"/><stop offset="0.550" stop-color="#f2e7ff"/><stop offset="0.600" stop-color="#e3d0ff"/><stop offset="0.650" stop-color="#d4b9ff"/><stop offset="0.700" stop-color="#c4a2ff"/><stop offset="0.750" stop-color="#b38bff"/><stop offset="0.800" stop-color="#a074ff"/><stop offset="0.850" stop-color="#8a5dff"/><stop offset="0.900" stop-color="#7145ff"/><stop offset="0.950" stop-color="#502bff"/><stop offset="1.000" stop-color="#0000ff"/></linearGradient></defs>
<rect x="658.4" y="97.9" width="11.2" height="53.6" fill="url(#g488)"/>
<text x="658.00" y="93.50" font-size="7.35" text-anchor="start" fill="#000">Corr</text>
<line x1="658.4" y1="97.90" x2="660.6" y2="97.90" stroke="#fff" stroke-width="0.5"/>
<line x1="667.4" y1="97.90" x2="669.6" y2="97.90" stroke="#fff" stroke-width="0.5"/>
<text x="673.00" y="100.10" font-size="5.9" text-anchor="start" fill="#4d4d4d">1.0</text>
<line x1="658.4" y1="111.30" x2="660.6" y2="111.30" stroke="#fff" stroke-width="0.5"/>
<line x1="667.4" y1="111.30" x2="669.6" y2="111.30" stroke="#fff" stroke-width="0.5"/>
<text x="673.00" y="113.50" font-size="5.9" text-anchor="start" fill="#4d4d4d">0.5</text>
<line x1="658.4" y1="124.70" x2="660.6" y2="124.70" stroke="#fff" stroke-width="0.5"/>
<line x1="667.4" y1="124.70" x2="669.6" y2="124.70" stroke="#fff" stroke-width="0.5"/>
<text x="673.00" y="126.90" font-size="5.9" text-anchor="start" fill="#4d4d4d">0.0</text>
<line x1="658.4" y1="138.10" x2="660.6" y2="138.10" stroke="#fff" stroke-width="0.5"/>
<line x1="667.4" y1="138.10" x2="669.6" y2="138.10" stroke="#fff" stroke-width="0.5"/>
<text x="673.00" y="140.30" font-size="5.9" text-anchor="start" fill="#4d4d4d">−0.5</text>
<line x1="658.4" y1="151.50" x2="660.6" y2="151.50" stroke="#fff" stroke-width="0.5"/>
<line x1="667.4" y1="151.50" x2="669.6" y2="151.50" stroke="#fff" stroke-width="0.5"/>
<text x="673.00" y="153.70" font-size="5.9" text-anchor="start" fill="#4d4d4d">−1.0</text>
<text x="3.50" y="294.70" font-size="9.8" text-anchor="start" font-weight="bold" fill="#000">c</text>
<text x="22.80" y="297.20" font-size="9.49" text-anchor="start" font-weight="bold" fill="#000">Clozapine - Repeated Measures Correlation Between Longitudinal Changes in Clocks</text>
<line x1="57.75" y1="305.99" x2="57.75" y2="518.25" stroke="#ebebeb" stroke-width="0.9"/>
<line x1="73.85" y1="305.99" x2="73.85" y2="518.25" stroke="#ebebeb" stroke-width="0.9"/>
<line x1="89.95" y1="305.99" x2="89.95" y2="518.25" stroke="#ebebeb" stroke-width="0.9"/>
<line x1="106.05" y1="305.99" x2="106.05" y2="518.25" stroke="#ebebeb" stroke-width="0.9"/>
<line x1="122.15" y1="305.99" x2="122.15" y2="518.25" stroke="#ebebeb" stroke-width="0.9"/>
<line x1="138.25" y1="305.99" x2="138.25" y2="518.25" stroke="#ebebeb" stroke-width="0.9"/>
<line x1="154.35" y1="305.99" x2="154.35" y2="518.25" stroke="#ebebeb" stroke-width="0.9"/>
<line x1="170.45" y1="305.99" x2="170.45" y2="518.25" stroke="#ebebeb" stroke-width="0.9"/>
<line x1="186.55" y1="305.99" x2="186.55" y2="518.25" stroke="#ebebeb" stroke-width="0.9"/>
<line x1="202.65" y1="305.99" x2="202.65" y2="518.25" stroke="#ebebeb" stroke-width="0.9"/>
<line x1="218.75" y1="305.99" x2="218.75" y2="518.25" stroke="#ebebeb" stroke-width="0.9"/>
<line x1="234.85" y1="305.99" x2="234.85" y2="518.25" stroke="#ebebeb" stroke-width="0.9"/>
<line x1="250.95" y1="305.99" x2="250.95" y2="518.25" stroke="#ebebeb" stroke-width="0.9"/>
<line x1="267.05" y1="305.99" x2="267.05" y2="518.25" stroke="#ebebeb" stroke-width="0.9"/>
<line x1="283.15" y1="305.99" x2="283.15" y2="518.25" stroke="#ebebeb" stroke-width="0.9"/>
<line x1="299.25" y1="305.99" x2="299.25" y2="518.25" stroke="#ebebeb" stroke-width="0.9"/>
<line x1="315.35" y1="305.99" x2="315.35" y2="518.25" stroke="#ebebeb" stroke-width="0.9"/>
<line x1="331.45" y1="305.99" x2="331.45" y2="518.25" stroke="#ebebeb" stroke-width="0.9"/>
<line x1="347.55" y1="305.99" x2="347.55" y2="518.25" stroke="#ebebeb" stroke-width="0.9"/>
<line x1="363.65" y1="305.99" x2="363.65" y2="518.25" stroke="#ebebeb" stroke-width="0.9"/>
<line x1="379.75" y1="305.99" x2="379.75" y2="518.25" stroke="#ebebeb" stroke-width="0.9"/>
<line x1="395.85" y1="305.99" x2="395.85" y2="518.25" stroke="#ebebeb" stroke-width="0.9"/>
<line x1="48.09" y1="315.64" x2="405.51" y2="315.64" stroke="#ebebeb" stroke-width="0.9"/>
<line x1="48.09" y1="331.72" x2="405.51" y2="331.72" stroke="#ebebeb" stroke-width="0.9"/>
<line x1="48.09" y1="347.80" x2="405.51" y2="347.80" stroke="#ebebeb" stroke-width="0.9"/>
<line x1="48.09" y1="363.88" x2="405.51" y2="363.88" stroke="#ebebeb" stroke-width="0.9"/>
<line x1="48.09" y1="379.96" x2="405.51" y2="379.96" stroke="#ebebeb" stroke-width="0.9"/>
<line x1="48.09" y1="396.04" x2="405.51" y2="396.04" stroke="#ebebeb" stroke-width="0.9"/>
<line x1="48.09" y1="412.12" x2="405.51" y2="412.12" stroke="#ebebeb" stroke-width="0.9"/>
<line x1="48.09" y1="428.20" x2="405.51" y2="428.20" stroke="#ebebeb" stroke-width="0.9"/>
<line x1="48.09" y1="444.28" x2="405.51" y2="444.28" stroke="#ebebeb" stroke-width="0.9"/>
<line x1="48.09" y1="460.36" x2="405.51" y2="460.36" stroke="#ebebeb" stroke-width="0.9"/>
<line x1="48.09" y1="476.44" x2="405.51" y2="476.44" stroke="#ebebeb" stroke-width="0.9"/>
<line x1="48.09" y1="492.52" x2="405.51" y2="492.52" stroke="#ebebeb" stroke-width="0.9"/>
<line x1="48.09" y1="508.60" x2="405.51" y2="508.60" stroke="#ebebeb" stroke-width="0.9"/>
<rect x="242.90" y="307.60" width="16.40" height="16.38" fill="#ff8767"/>
<rect x="259.00" y="307.60" width="16.40" height="16.38" fill="#ffd1c1"/>
<rect x="275.10" y="307.60" width="16.40" height="16.38" fill="#e8d7ff"/>
<rect x="291.20" y="307.60" width="16.40" height="16.38" fill="#885bff"/>
<rect x="307.30" y="307.60" width="16.40" height="16.38" fill="#e2ceff"/>
<rect x="323.40" y="307.60" width="16.40" height="16.38" fill="#a277ff"/>
<rect x="339.50" y="307.60" width="16.40" height="16.38" fill="#ab82ff"/>
<rect x="355.60" y="307.60" width="16.40" height="16.38" fill="#ff9e81"/>
<rect x="371.70" y="307.60" width="16.40" height="16.38" fill="#ff5838"/>
<rect x="387.80" y="307.60" width="16.40" height="16.38" fill="#d3b7ff"/>
<rect x="226.80" y="323.68" width="16.40" height="16.38" fill="#ff8767"/>
<rect x="242.90" y="323.68" width="16.40" height="16.38" fill="#ffe4db"/>
<rect x="259.00" y="323.68" width="16.40" height="16.38" fill="#ffc7b5"/>
<rect x="275.10" y="323.68" width="16.40" height="16.38" fill="#ede0ff"/>
<rect x="291.20" y="323.68" width="16.40" height="16.38" fill="#c4a2ff"/>
<rect x="307.30" y="323.68" width="16.40" height="16.38" fill="#fffdfc"/>
<rect x="323.40" y="323.68" width="16.40" height="16.38" fill="#ceb0ff"/>
<rect x="339.50" y="323.68" width="16.40" height="16.38" fill="#e5d2ff"/>
<rect x="355.60" y="323.68" width="16.40" height="16.38" fill="#ffd7c9"/>
<rect x="371.70" y="323.68" width="16.40" height="16.38" fill="#ffae95"/>
<rect x="387.80" y="323.68" width="16.40" height="16.38" fill="#efe3ff"/>
<rect x="210.70" y="339.76" width="16.40" height="16.38" fill="#e8d7ff"/>
<rect x="226.80" y="339.76" width="16.40" height="16.38" fill="#fbf8ff"/>
<rect x="242.90" y="339.76" width="16.40" height="16.38" fill="#c6a4ff"/>
<rect x="259.00" y="339.76" width="16.40" height="16.38" fill="#dec7ff"/>
<rect x="275.10" y="339.76" width="16.40" height="16.38" fill="#ffe6dd"/>
<rect x="291.20" y="339.76" width="16.40" height="16.38" fill="#fff2ed"/>
<rect x="307.30" y="339.76" width="16.40" height="16.38" fill="#fff0ea"/>
<rect x="323.40" y="339.76" width="16.40" height="16.38" fill="#ff8767"/>
<rect x="339.50" y="339.76" width="16.40" height="16.38" fill="#b690ff"/>
<rect x="355.60" y="339.76" width="16.40" height="16.38" fill="#d1b4ff"/>
<rect x="371.70" y="339.76" width="16.40" height="16.38" fill="#e6d5ff"/>
<rect x="387.80" y="339.76" width="16.40" height="16.38" fill="#ff8b6c"/>
<rect x="194.60" y="355.84" width="16.40" height="16.38" fill="#ffd9cb"/>
<rect x="210.70" y="355.84" width="16.40" height="16.38" fill="#faf6ff"/>
<rect x="226.80" y="355.84" width="16.40" height="16.38" fill="#ffeee8"/>
<rect x="242.90" y="355.84" width="16.40" height="16.38" fill="#fcfaff"/>
<rect x="259.00" y="355.84" width="16.40" height="16.38" fill="#cbabff"/>
<rect x="275.10" y="355.84" width="16.40" height="16.38" fill="#ffe0d6"/>
<rect x="291.20" y="355.84" width="16.40" height="16.38" fill="#f4ecff"/>
<rect x="307.30" y="355.84" width="16.40" height="16.38" fill="#ffa488"/>
<rect x="323.40" y="355.84" width="16.40" height="16.38" fill="#ffcbba"/>
<rect x="339.50" y="355.84" width="16.40" height="16.38" fill="#d9c0ff"/>
<rect x="355.60" y="355.84" width="16.40" height="16.38" fill="#ffeee8"/>
<rect x="371.70" y="355.84" width="16.40" height="16.38" fill="#f4ecff"/>
<rect x="387.80" y="355.84" width="16.40" height="16.38" fill="#ffe0d6"/>
<rect x="178.50" y="371.92" width="16.40" height="16.38" fill="#dfc9ff"/>
<rect x="194.60" y="371.92" width="16.40" height="16.38" fill="#c4a2ff"/>
<rect x="210.70" y="371.92" width="16.40" height="16.38" fill="#ff9071"/>
<rect x="226.80" y="371.92" width="16.40" height="16.38" fill="#ff603f"/>
<rect x="242.90" y="371.92" width="16.40" height="16.38" fill="#ff9e81"/>
<rect x="259.00" y="371.92" width="16.40" height="16.38" fill="#ffa084"/>
<rect x="275.10" y="371.92" width="16.40" height="16.38" fill="#ceb0ff"/>
<rect x="291.20" y="371.92" width="16.40" height="16.38" fill="#9e72ff"/>
<rect x="307.30" y="371.92" width="16.40" height="16.38" fill="#b690ff"/>
<rect x="323.40" y="371.92" width="16.40" height="16.38" fill="#7448ff"/>
<rect x="339.50" y="371.92" width="16.40" height="16.38" fill="#f4ecff"/>
<rect x="355.60" y="371.92" width="16.40" height="16.38" fill="#ffae95"/>
<rect x="371.70" y="371.92" width="16.40" height="16.38" fill="#ff6846"/>
<rect x="387.80" y="371.92" width="16.40" height="16.38" fill="#b58dff"/>
<rect x="162.40" y="388.00" width="16.40" height="16.38" fill="#ffdfd3"/>
<rect x="178.50" y="388.00" width="16.40" height="16.38" fill="#ffe6dd"/>
<rect x="194.60" y="388.00" width="16.40" height="16.38" fill="#e9d9ff"/>
<rect x="210.70" y="388.00" width="16.40" height="16.38" fill="#ffcfbf"/>
<rect x="226.80" y="388.00" width="16.40" height="16.38" fill="#ffc7b5"/>
<rect x="242.90" y="388.00" width="16.40" height="16.38" fill="#ffc0ab"/>
<rect x="259.00" y="388.00" width="16.40" height="16.38" fill="#f2e7ff"/>
<rect x="275.10" y="388.00" width="16.40" height="16.38" fill="#e6d5ff"/>
<rect x="291.20" y="388.00" width="16.40" height="16.38" fill="#d6bbff"/>
<rect x="307.30" y="388.00" width="16.40" height="16.38" fill="#ffe6dd"/>
<rect x="323.40" y="388.00" width="16.40" height="16.38" fill="#dec7ff"/>
<rect x="339.50" y="388.00" width="16.40" height="16.38" fill="#dcc4ff"/>
<rect x="355.60" y="388.00" width="16.40" height="16.38" fill="#ffaa90"/>
<rect x="371.70" y="388.00" width="16.40" height="16.38" fill="#ffd7c9"/>
<rect x="387.80" y="388.00" width="16.40" height="16.38" fill="#faf6ff"/>
<rect x="146.30" y="404.08" width="16.40" height="16.38" fill="#ffcdbc"/>
<rect x="162.40" y="404.08" width="16.40" height="16.38" fill="#ff361c"/>
<rect x="178.50" y="404.08" width="16.40" height="16.38" fill="#e6d5ff"/>
<rect x="194.60" y="404.08" width="16.40" height="16.38" fill="#a074ff"/>
<rect x="210.70" y="404.08" width="16.40" height="16.38" fill="#ff9071"/>
<rect x="226.80" y="404.08" width="16.40" height="16.38" fill="#ff7c5b"/>
<rect x="242.90" y="404.08" width="16.40" height="16.38" fill="#ff9a7c"/>
<rect x="259.00" y="404.08" width="16.40" height="16.38" fill="#ff9a7c"/>
<rect x="275.10" y="404.08" width="16.40" height="16.38" fill="#d4b9ff"/>
<rect x="291.20" y="404.08" width="16.40" height="16.38" fill="#b892ff"/>
<rect x="307.30" y="404.08" width="16.40" height="16.38" fill="#ccadff"/>
<rect x="323.40" y="404.08" width="16.40" height="16.38" fill="#5e36ff"/>
<rect x="339.50" y="404.08" width="16.40" height="16.38" fill="#ffece5"/>
<rect x="355.60" y="404.08" width="16.40" height="16.38" fill="#ff9c7f"/>
<rect x="371.70" y="404.08" width="16.40" height="16.38" fill="#ff8362"/>
<rect x="387.80" y="404.08" width="16.40" height="16.38" fill="#ad84ff"/>
<rect x="130.20" y="420.16" width="16.40" height="16.38" fill="#ffbca6"/>
<rect x="146.30" y="420.16" width="16.40" height="16.38" fill="#ffeae2"/>
<rect x="162.40" y="420.16" width="16.40" height="16.38" fill="#ffbea8"/>
<rect x="178.50" y="420.16" width="16.40" height="16.38" fill="#dcc4ff"/>
<rect x="194.60" y="420.16" width="16.40" height="16.38" fill="#e3d0ff"/>
<rect x="210.70" y="420.16" width="16.40" height="16.38" fill="#ffc7b5"/>
<rect x="226.80" y="420.16" width="16.40" height="16.38" fill="#ffeee8"/>
<rect x="242.90" y="420.16" width="16.40" height="16.38" fill="#f7f1ff"/>
<rect x="259.00" y="420.16" width="16.40" height="16.38" fill="#ffc6b2"/>
<rect x="275.10" y="420.16" width="16.40" height="16.38" fill="#b58dff"/>
<rect x="291.20" y="420.16" width="16.40" height="16.38" fill="#f2e7ff"/>
<rect x="307.30" y="420.16" width="16.40" height="16.38" fill="#d6bbff"/>
<rect x="323.40" y="420.16" width="16.40" height="16.38" fill="#f8f3ff"/>
<rect x="339.50" y="420.16" width="16.40" height="16.38" fill="#ffddd0"/>
<rect x="355.60" y="420.16" width="16.40" height="16.38" fill="#ffe4db"/>
<rect x="371.70" y="420.16" width="16.40" height="16.38" fill="#f7f1ff"/>
<rect x="387.80" y="420.16" width="16.40" height="16.38" fill="#fff7f5"/>
<rect x="114.10" y="436.24" width="16.40" height="16.38" fill="#ffffff"/>
<rect x="130.20" y="436.24" width="16.40" height="16.38" fill="#ffc4b0"/>
<rect x="146.30" y="436.24" width="16.40" height="16.38" fill="#ffdbce"/>
<rect x="162.40" y="436.24" width="16.40" height="16.38" fill="#fff4ef"/>
<rect x="178.50" y="436.24" width="16.40" height="16.38" fill="#f4ecff"/>
<rect x="194.60" y="436.24" width="16.40" height="16.38" fill="#6b40ff"/>
<rect x="210.70" y="436.24" width="16.40" height="16.38" fill="#fbf8ff"/>
<rect x="226.80" y="436.24" width="16.40" height="16.38" fill="#e9d9ff"/>
<rect x="242.90" y="436.24" width="16.40" height="16.38" fill="#ffaa90"/>
<rect x="259.00" y="436.24" width="16.40" height="16.38" fill="#fffdfc"/>
<rect x="275.10" y="436.24" width="16.40" height="16.38" fill="#ffdbce"/>
<rect x="291.20" y="436.24" width="16.40" height="16.38" fill="#f7f1ff"/>
<rect x="307.30" y="436.24" width="16.40" height="16.38" fill="#ffcfbf"/>
<rect x="323.40" y="436.24" width="16.40" height="16.38" fill="#c8a7ff"/>
<rect x="339.50" y="436.24" width="16.40" height="16.38" fill="#ffb8a1"/>
<rect x="355.60" y="436.24" width="16.40" height="16.38" fill="#ffdbce"/>
<rect x="371.70" y="436.24" width="16.40" height="16.38" fill="#ffeae2"/>
<rect x="387.80" y="436.24" width="16.40" height="16.38" fill="#976bff"/>
<rect x="98.00" y="452.32" width="16.40" height="16.38" fill="#ffe6dd"/>
<rect x="114.10" y="452.32" width="16.40" height="16.38" fill="#ffb097"/>
<rect x="130.20" y="452.32" width="16.40" height="16.38" fill="#ffece5"/>
<rect x="146.30" y="452.32" width="16.40" height="16.38" fill="#ffcfbf"/>
<rect x="162.40" y="452.32" width="16.40" height="16.38" fill="#fff5f2"/>
<rect x="178.50" y="452.32" width="16.40" height="16.38" fill="#ffd9cb"/>
<rect x="194.60" y="452.32" width="16.40" height="16.38" fill="#ebdcff"/>
<rect x="210.70" y="452.32" width="16.40" height="16.38" fill="#ffcfbf"/>
<rect x="226.80" y="452.32" width="16.40" height="16.38" fill="#fffdfc"/>
<rect x="242.90" y="452.32" width="16.40" height="16.38" fill="#f8f3ff"/>
<rect x="259.00" y="452.32" width="16.40" height="16.38" fill="#f6eeff"/>
<rect x="275.10" y="452.32" width="16.40" height="16.38" fill="#fbf8ff"/>
<rect x="291.20" y="452.32" width="16.40" height="16.38" fill="#fff2ed"/>
<rect x="307.30" y="452.32" width="16.40" height="16.38" fill="#ffece5"/>
<rect x="323.40" y="452.32" width="16.40" height="16.38" fill="#ffe8e0"/>
<rect x="339.50" y="452.32" width="16.40" height="16.38" fill="#f7f1ff"/>
<rect x="355.60" y="452.32" width="16.40" height="16.38" fill="#fffbfa"/>
<rect x="371.70" y="452.32" width="16.40" height="16.38" fill="#f2e7ff"/>
<rect x="387.80" y="452.32" width="16.40" height="16.38" fill="#fff7f5"/>
<rect x="81.90" y="468.40" width="16.40" height="16.38" fill="#ffe0d6"/>
<rect x="98.00" y="468.40" width="16.40" height="16.38" fill="#ff4124"/>
<rect x="114.10" y="468.40" width="16.40" height="16.38" fill="#f8f3ff"/>
<rect x="130.20" y="468.40" width="16.40" height="16.38" fill="#ffdbce"/>
<rect x="146.30" y="468.40" width="16.40" height="16.38" fill="#ffdfd3"/>
<rect x="162.40" y="468.40" width="16.40" height="16.38" fill="#fefdff"/>
<rect x="178.50" y="468.40" width="16.40" height="16.38" fill="#fefdff"/>
<rect x="194.60" y="468.40" width="16.40" height="16.38" fill="#885bff"/>
<rect x="210.70" y="468.40" width="16.40" height="16.38" fill="#f3eaff"/>
<rect x="226.80" y="468.40" width="16.40" height="16.38" fill="#dec7ff"/>
<rect x="242.90" y="468.40" width="16.40" height="16.38" fill="#ffb69e"/>
<rect x="259.00" y="468.40" width="16.40" height="16.38" fill="#efe3ff"/>
<rect x="275.10" y="468.40" width="16.40" height="16.38" fill="#ffd9cb"/>
<rect x="291.20" y="468.40" width="16.40" height="16.38" fill="#ebdcff"/>
<rect x="307.30" y="468.40" width="16.40" height="16.38" fill="#ffb299"/>
<rect x="323.40" y="468.40" width="16.40" height="16.38" fill="#e0cbff"/>
<rect x="339.50" y="468.40" width="16.40" height="16.38" fill="#ffc0ab"/>
<rect x="355.60" y="468.40" width="16.40" height="16.38" fill="#ffeae2"/>
<rect x="371.70" y="468.40" width="16.40" height="16.38" fill="#fff0ea"/>
<rect x="387.80" y="468.40" width="16.40" height="16.38" fill="#9a6dff"/>
<rect x="65.80" y="484.48" width="16.40" height="16.38" fill="#ffa084"/>
<rect x="81.90" y="484.48" width="16.40" height="16.38" fill="#ecdeff"/>
<rect x="98.00" y="484.48" width="16.40" height="16.38" fill="#ff9678"/>
<rect x="114.10" y="484.48" width="16.40" height="16.38" fill="#faf6ff"/>
<rect x="130.20" y="484.48" width="16.40" height="16.38" fill="#ffeee8"/>
<rect x="146.30" y="484.48" width="16.40" height="16.38" fill="#ffc6b2"/>
<rect x="162.40" y="484.48" width="16.40" height="16.38" fill="#f2e7ff"/>
<rect x="178.50" y="484.48" width="16.40" height="16.38" fill="#f2e7ff"/>
<rect x="194.60" y="484.48" width="16.40" height="16.38" fill="#bf9bff"/>
<rect x="210.70" y="484.48" width="16.40" height="16.38" fill="#d4b9ff"/>
<rect x="226.80" y="484.48" width="16.40" height="16.38" fill="#e9d9ff"/>
<rect x="242.90" y="484.48" width="16.40" height="16.38" fill="#ffc2ad"/>
<rect x="259.00" y="484.48" width="16.40" height="16.38" fill="#ffffff"/>
<rect x="275.10" y="484.48" width="16.40" height="16.38" fill="#ffeee8"/>
<rect x="291.20" y="484.48" width="16.40" height="16.38" fill="#fff0ea"/>
<rect x="307.30" y="484.48" width="16.40" height="16.38" fill="#fff9f7"/>
<rect x="323.40" y="484.48" width="16.40" height="16.38" fill="#dcc4ff"/>
<rect x="339.50" y="484.48" width="16.40" height="16.38" fill="#ffd3c4"/>
<rect x="355.60" y="484.48" width="16.40" height="16.38" fill="#ffcbba"/>
<rect x="371.70" y="484.48" width="16.40" height="16.38" fill="#faf6ff"/>
<rect x="387.80" y="484.48" width="16.40" height="16.38" fill="#d7beff"/>
<rect x="49.70" y="500.56" width="16.40" height="16.38" fill="#fefdff"/>
<rect x="65.80" y="500.56" width="16.40" height="16.38" fill="#f3eaff"/>
<rect x="81.90" y="500.56" width="16.40" height="16.38" fill="#ffd7c9"/>
<rect x="98.00" y="500.56" width="16.40" height="16.38" fill="#dac2ff"/>
<rect x="114.10" y="500.56" width="16.40" height="16.38" fill="#f4ecff"/>
<rect x="130.20" y="500.56" width="16.40" height="16.38" fill="#fffbfa"/>
<rect x="146.30" y="500.56" width="16.40" height="16.38" fill="#ffddd0"/>
<rect x="162.40" y="500.56" width="16.40" height="16.38" fill="#ffe6dd"/>
<rect x="178.50" y="500.56" width="16.40" height="16.38" fill="#ff9c7f"/>
<rect x="194.60" y="500.56" width="16.40" height="16.38" fill="#ffddd0"/>
<rect x="210.70" y="500.56" width="16.40" height="16.38" fill="#ffe2d8"/>
<rect x="226.80" y="500.56" width="16.40" height="16.38" fill="#ffae95"/>
<rect x="242.90" y="500.56" width="16.40" height="16.38" fill="#ffeee8"/>
<rect x="259.00" y="500.56" width="16.40" height="16.38" fill="#faf6ff"/>
<rect x="275.10" y="500.56" width="16.40" height="16.38" fill="#fbf8ff"/>
<rect x="291.20" y="500.56" width="16.40" height="16.38" fill="#e0cbff"/>
<rect x="307.30" y="500.56" width="16.40" height="16.38" fill="#ffd9cb"/>
<rect x="323.40" y="500.56" width="16.40" height="16.38" fill="#fff0ea"/>
<rect x="339.50" y="500.56" width="16.40" height="16.38" fill="#d3b7ff"/>
<rect x="355.60" y="500.56" width="16.40" height="16.38" fill="#ffc9b7"/>
<rect x="371.70" y="500.56" width="16.40" height="16.38" fill="#fff0ea"/>
<rect x="387.80" y="500.56" width="16.40" height="16.38" fill="#fff5f2"/>
<text x="250.95" y="318.64" font-size="7.1" text-anchor="middle" fill="#111">0.61</text>
<text x="267.05" y="318.64" font-size="7.1" text-anchor="middle" fill="#111">0.24</text>
<text x="283.15" y="318.64" font-size="7.1" text-anchor="middle" fill="#111">−0.17</text>
<text x="299.25" y="318.64" font-size="7.1" text-anchor="middle" fill="#111">−0.71</text>
<text x="315.35" y="318.64" font-size="7.1" text-anchor="middle" fill="#111">−0.21</text>
<text x="331.45" y="318.64" font-size="7.1" text-anchor="middle" fill="#111">−0.59</text>
<text x="347.55" y="318.64" font-size="7.1" text-anchor="middle" fill="#111">−0.54</text>
<text x="363.65" y="318.64" font-size="7.1" text-anchor="middle" fill="#111">0.5</text>
<text x="379.75" y="318.64" font-size="7.1" text-anchor="middle" fill="#111">0.81</text>
<text x="395.85" y="318.64" font-size="7.1" text-anchor="middle" fill="#111">−0.31</text>
<text x="234.85" y="334.72" font-size="7.1" text-anchor="middle" fill="#111">0.61</text>
<text x="250.95" y="334.72" font-size="7.1" text-anchor="middle" fill="#111">0.14</text>
<text x="267.05" y="334.72" font-size="7.1" text-anchor="middle" fill="#111">0.29</text>
<text x="283.15" y="334.72" font-size="7.1" text-anchor="middle" fill="#111">−0.13</text>
<text x="299.25" y="334.72" font-size="7.1" text-anchor="middle" fill="#111">−0.4</text>
<text x="315.35" y="334.72" font-size="7.1" text-anchor="middle" fill="#111">0.01</text>
<text x="331.45" y="334.72" font-size="7.1" text-anchor="middle" fill="#111">−0.34</text>
<text x="347.55" y="334.72" font-size="7.1" text-anchor="middle" fill="#111">−0.19</text>
<text x="363.65" y="334.72" font-size="7.1" text-anchor="middle" fill="#111">0.21</text>
<text x="379.75" y="334.72" font-size="7.1" text-anchor="middle" fill="#111">0.42</text>
<text x="395.85" y="334.72" font-size="7.1" text-anchor="middle" fill="#111">−0.12</text>
<text x="218.75" y="350.80" font-size="7.1" text-anchor="middle" fill="#111">−0.17</text>
<text x="234.85" y="350.80" font-size="7.1" text-anchor="middle" fill="#111">−0.03</text>
<text x="250.95" y="350.80" font-size="7.1" text-anchor="middle" fill="#111">−0.39</text>
<text x="267.05" y="350.80" font-size="7.1" text-anchor="middle" fill="#111">−0.24</text>
<text x="283.15" y="350.80" font-size="7.1" text-anchor="middle" fill="#111">0.13</text>
<text x="299.25" y="350.80" font-size="7.1" text-anchor="middle" fill="#111">0.07</text>
<text x="315.35" y="350.80" font-size="7.1" text-anchor="middle" fill="#111">0.08</text>
<text x="331.45" y="350.80" font-size="7.1" text-anchor="middle" fill="#111">0.61</text>
<text x="347.55" y="350.80" font-size="7.1" text-anchor="middle" fill="#111">−0.48</text>
<text x="363.65" y="350.80" font-size="7.1" text-anchor="middle" fill="#111">−0.32</text>
<text x="379.75" y="350.80" font-size="7.1" text-anchor="middle" fill="#111">−0.18</text>
<text x="395.85" y="350.80" font-size="7.1" text-anchor="middle" fill="#111">0.59</text>
<text x="202.65" y="366.88" font-size="7.1" text-anchor="middle" fill="#111">0.2</text>
<text x="218.75" y="366.88" font-size="7.1" text-anchor="middle" fill="#111">−0.04</text>
<text x="234.85" y="366.88" font-size="7.1" text-anchor="middle" fill="#111">0.09</text>
<text x="250.95" y="366.88" font-size="7.1" text-anchor="middle" fill="#111">−0.02</text>
<text x="267.05" y="366.88" font-size="7.1" text-anchor="middle" fill="#111">−0.36</text>
<text x="283.15" y="366.88" font-size="7.1" text-anchor="middle" fill="#111">0.16</text>
<text x="299.25" y="366.88" font-size="7.1" text-anchor="middle" fill="#111">−0.08</text>
<text x="315.35" y="366.88" font-size="7.1" text-anchor="middle" fill="#111">0.47</text>
<text x="331.45" y="366.88" font-size="7.1" text-anchor="middle" fill="#111">0.27</text>
<text x="347.55" y="366.88" font-size="7.1" text-anchor="middle" fill="#111">−0.27</text>
<text x="363.65" y="366.88" font-size="7.1" text-anchor="middle" fill="#111">0.09</text>
<text x="379.75" y="366.88" font-size="7.1" text-anchor="middle" fill="#111">−0.08</text>
<text x="395.85" y="366.88" font-size="7.1" text-anchor="middle" fill="#111">0.16</text>
<text x="186.55" y="382.96" font-size="7.1" text-anchor="middle" fill="#111">−0.23</text>
<text x="202.65" y="382.96" font-size="7.1" text-anchor="middle" fill="#111">−0.4</text>
<text x="218.75" y="382.96" font-size="7.1" text-anchor="middle" fill="#111">0.57</text>
<text x="234.85" y="382.96" font-size="7.1" text-anchor="middle" fill="#111">0.78</text>
<text x="250.95" y="382.96" font-size="7.1" text-anchor="middle" fill="#111">0.5</text>
<text x="267.05" y="382.96" font-size="7.1" text-anchor="middle" fill="#111">0.49</text>
<text x="283.15" y="382.96" font-size="7.1" text-anchor="middle" fill="#111">−0.34</text>
<text x="299.25" y="382.96" font-size="7.1" text-anchor="middle" fill="#111">−0.61</text>
<text x="315.35" y="382.96" font-size="7.1" text-anchor="middle" fill="#111">−0.48</text>
<text x="331.45" y="382.96" font-size="7.1" text-anchor="middle" fill="#111">−0.79</text>
<text x="347.55" y="382.96" font-size="7.1" text-anchor="middle" fill="#111">−0.08</text>
<text x="363.65" y="382.96" font-size="7.1" text-anchor="middle" fill="#111">0.42</text>
<text x="379.75" y="382.96" font-size="7.1" text-anchor="middle" fill="#111">0.75</text>
<text x="395.85" y="382.96" font-size="7.1" text-anchor="middle" fill="#111">−0.49</text>
<text x="170.45" y="399.04" font-size="7.1" text-anchor="middle" fill="#111">0.17</text>
<text x="186.55" y="399.04" font-size="7.1" text-anchor="middle" fill="#111">0.13</text>
<text x="202.65" y="399.04" font-size="7.1" text-anchor="middle" fill="#111">−0.16</text>
<text x="218.75" y="399.04" font-size="7.1" text-anchor="middle" fill="#111">0.25</text>
<text x="234.85" y="399.04" font-size="7.1" text-anchor="middle" fill="#111">0.29</text>
<text x="250.95" y="399.04" font-size="7.1" text-anchor="middle" fill="#111">0.33</text>
<text x="267.05" y="399.04" font-size="7.1" text-anchor="middle" fill="#111">−0.1</text>
<text x="283.15" y="399.04" font-size="7.1" text-anchor="middle" fill="#111">−0.18</text>
<text x="299.25" y="399.04" font-size="7.1" text-anchor="middle" fill="#111">−0.29</text>
<text x="315.35" y="399.04" font-size="7.1" text-anchor="middle" fill="#111">0.13</text>
<text x="331.45" y="399.04" font-size="7.1" text-anchor="middle" fill="#111">−0.24</text>
<text x="347.55" y="399.04" font-size="7.1" text-anchor="middle" fill="#111">−0.25</text>
<text x="363.65" y="399.04" font-size="7.1" text-anchor="middle" fill="#111">0.44</text>
<text x="379.75" y="399.04" font-size="7.1" text-anchor="middle" fill="#111">0.21</text>
<text x="395.85" y="399.04" font-size="7.1" text-anchor="middle" fill="#111">−0.04</text>
<text x="154.35" y="415.12" font-size="7.1" text-anchor="middle" fill="#111">0.26</text>
<text x="170.45" y="415.12" font-size="7.1" text-anchor="middle" fill="#111">0.92</text>
<text x="186.55" y="415.12" font-size="7.1" text-anchor="middle" fill="#111">−0.18</text>
<text x="202.65" y="415.12" font-size="7.1" text-anchor="middle" fill="#111">−0.6</text>
<text x="218.75" y="415.12" font-size="7.1" text-anchor="middle" fill="#111">0.57</text>
<text x="234.85" y="415.12" font-size="7.1" text-anchor="middle" fill="#111">0.66</text>
<text x="250.95" y="415.12" font-size="7.1" text-anchor="middle" fill="#111">0.52</text>
<text x="267.05" y="415.12" font-size="7.1" text-anchor="middle" fill="#111">0.52</text>
<text x="283.15" y="415.12" font-size="7.1" text-anchor="middle" fill="#111">−0.3</text>
<text x="299.25" y="415.12" font-size="7.1" text-anchor="middle" fill="#111">−0.47</text>
<text x="315.35" y="415.12" font-size="7.1" text-anchor="middle" fill="#111">−0.35</text>
<text x="331.45" y="415.12" font-size="7.1" text-anchor="middle" fill="#111">−0.86</text>
<text x="347.55" y="415.12" font-size="7.1" text-anchor="middle" fill="#111">0.1</text>
<text x="363.65" y="415.12" font-size="7.1" text-anchor="middle" fill="#111">0.51</text>
<text x="379.75" y="415.12" font-size="7.1" text-anchor="middle" fill="#111">0.63</text>
<text x="395.85" y="415.12" font-size="7.1" text-anchor="middle" fill="#111">−0.53</text>
<text x="138.25" y="431.20" font-size="7.1" text-anchor="middle" fill="#111">0.35</text>
<text x="154.35" y="431.20" font-size="7.1" text-anchor="middle" fill="#111">0.11</text>
<text x="170.45" y="431.20" font-size="7.1" text-anchor="middle" fill="#111">0.34</text>
<text x="186.55" y="431.20" font-size="7.1" text-anchor="middle" fill="#111">−0.25</text>
<text x="202.65" y="431.20" font-size="7.1" text-anchor="middle" fill="#111">−0.2</text>
<text x="218.75" y="431.20" font-size="7.1" text-anchor="middle" fill="#111">0.29</text>
<text x="234.85" y="431.20" font-size="7.1" text-anchor="middle" fill="#111">0.09</text>
<text x="250.95" y="431.20" font-size="7.1" text-anchor="middle" fill="#111">−0.06</text>
<text x="267.05" y="431.20" font-size="7.1" text-anchor="middle" fill="#111">0.3</text>
<text x="283.15" y="431.20" font-size="7.1" text-anchor="middle" fill="#111">−0.49</text>
<text x="299.25" y="431.20" font-size="7.1" text-anchor="middle" fill="#111">−0.1</text>
<text x="315.35" y="431.20" font-size="7.1" text-anchor="middle" fill="#111">−0.29</text>
<text x="331.45" y="431.20" font-size="7.1" text-anchor="middle" fill="#111">−0.05</text>
<text x="347.55" y="431.20" font-size="7.1" text-anchor="middle" fill="#111">0.18</text>
<text x="363.65" y="431.20" font-size="7.1" text-anchor="middle" fill="#111">0.14</text>
<text x="379.75" y="431.20" font-size="7.1" text-anchor="middle" fill="#111">−0.06</text>
<text x="395.85" y="431.20" font-size="7.1" text-anchor="middle" fill="#111">0.04</text>
<text x="122.15" y="447.28" font-size="7.1" text-anchor="middle" fill="#111">0</text>
<text x="138.25" y="447.28" font-size="7.1" text-anchor="middle" fill="#111">0.31</text>
<text x="154.35" y="447.28" font-size="7.1" text-anchor="middle" fill="#111">0.19</text>
<text x="170.45" y="447.28" font-size="7.1" text-anchor="middle" fill="#111">0.06</text>
<text x="186.55" y="447.28" font-size="7.1" text-anchor="middle" fill="#111">−0.08</text>
<text x="202.65" y="447.28" font-size="7.1" text-anchor="middle" fill="#111">−0.82</text>
<text x="218.75" y="447.28" font-size="7.1" text-anchor="middle" fill="#111">−0.03</text>
<text x="234.85" y="447.28" font-size="7.1" text-anchor="middle" fill="#111">−0.16</text>
<text x="250.95" y="447.28" font-size="7.1" text-anchor="middle" fill="#111">0.44</text>
<text x="267.05" y="447.28" font-size="7.1" text-anchor="middle" fill="#111">0.01</text>
<text x="283.15" y="447.28" font-size="7.1" text-anchor="middle" fill="#111">0.19</text>
<text x="299.25" y="447.28" font-size="7.1" text-anchor="middle" fill="#111">−0.06</text>
<text x="315.35" y="447.28" font-size="7.1" text-anchor="middle" fill="#111">0.25</text>
<text x="331.45" y="447.28" font-size="7.1" text-anchor="middle" fill="#111">−0.38</text>
<text x="347.55" y="447.28" font-size="7.1" text-anchor="middle" fill="#111">0.37</text>
<text x="363.65" y="447.28" font-size="7.1" text-anchor="middle" fill="#111">0.19</text>
<text x="379.75" y="447.28" font-size="7.1" text-anchor="middle" fill="#111">0.11</text>
<text x="395.85" y="447.28" font-size="7.1" text-anchor="middle" fill="#111">−0.64</text>
<text x="106.05" y="463.36" font-size="7.1" text-anchor="middle" fill="#111">0.13</text>
<text x="122.15" y="463.36" font-size="7.1" text-anchor="middle" fill="#111">0.41</text>
<text x="138.25" y="463.36" font-size="7.1" text-anchor="middle" fill="#111">0.1</text>
<text x="154.35" y="463.36" font-size="7.1" text-anchor="middle" fill="#111">0.25</text>
<text x="170.45" y="463.36" font-size="7.1" text-anchor="middle" fill="#111">0.05</text>
<text x="186.55" y="463.36" font-size="7.1" text-anchor="middle" fill="#111">0.2</text>
<text x="202.65" y="463.36" font-size="7.1" text-anchor="middle" fill="#111">−0.15</text>
<text x="218.75" y="463.36" font-size="7.1" text-anchor="middle" fill="#111">0.25</text>
<text x="234.85" y="463.36" font-size="7.1" text-anchor="middle" fill="#111">0.01</text>
<text x="250.95" y="463.36" font-size="7.1" text-anchor="middle" fill="#111">−0.05</text>
<text x="267.05" y="463.36" font-size="7.1" text-anchor="middle" fill="#111">−0.07</text>
<text x="283.15" y="463.36" font-size="7.1" text-anchor="middle" fill="#111">−0.03</text>
<text x="299.25" y="463.36" font-size="7.1" text-anchor="middle" fill="#111">0.07</text>
<text x="315.35" y="463.36" font-size="7.1" text-anchor="middle" fill="#111">0.1</text>
<text x="331.45" y="463.36" font-size="7.1" text-anchor="middle" fill="#111">0.12</text>
<text x="347.55" y="463.36" font-size="7.1" text-anchor="middle" fill="#111">−0.06</text>
<text x="363.65" y="463.36" font-size="7.1" text-anchor="middle" fill="#111">0.02</text>
<text x="379.75" y="463.36" font-size="7.1" text-anchor="middle" fill="#111">−0.1</text>
<text x="395.85" y="463.36" font-size="7.1" text-anchor="middle" fill="#111">0.04</text>
<text x="89.95" y="479.44" font-size="7.1" text-anchor="middle" fill="#111">0.16</text>
<text x="106.05" y="479.44" font-size="7.1" text-anchor="middle" fill="#111">0.89</text>
<text x="122.15" y="479.44" font-size="7.1" text-anchor="middle" fill="#111">−0.05</text>
<text x="138.25" y="479.44" font-size="7.1" text-anchor="middle" fill="#111">0.19</text>
<text x="154.35" y="479.44" font-size="7.1" text-anchor="middle" fill="#111">0.17</text>
<text x="170.45" y="479.44" font-size="7.1" text-anchor="middle" fill="#111">−0.01</text>
<text x="186.55" y="479.44" font-size="7.1" text-anchor="middle" fill="#111">−0.01</text>
<text x="202.65" y="479.44" font-size="7.1" text-anchor="middle" fill="#111">−0.71</text>
<text x="218.75" y="479.44" font-size="7.1" text-anchor="middle" fill="#111">−0.09</text>
<text x="234.85" y="479.44" font-size="7.1" text-anchor="middle" fill="#111">−0.24</text>
<text x="250.95" y="479.44" font-size="7.1" text-anchor="middle" fill="#111">0.38</text>
<text x="267.05" y="479.44" font-size="7.1" text-anchor="middle" fill="#111">−0.12</text>
<text x="283.15" y="479.44" font-size="7.1" text-anchor="middle" fill="#111">0.2</text>
<text x="299.25" y="479.44" font-size="7.1" text-anchor="middle" fill="#111">−0.15</text>
<text x="315.35" y="479.44" font-size="7.1" text-anchor="middle" fill="#111">0.4</text>
<text x="331.45" y="479.44" font-size="7.1" text-anchor="middle" fill="#111">−0.22</text>
<text x="347.55" y="479.44" font-size="7.1" text-anchor="middle" fill="#111">0.33</text>
<text x="363.65" y="479.44" font-size="7.1" text-anchor="middle" fill="#111">0.11</text>
<text x="379.75" y="479.44" font-size="7.1" text-anchor="middle" fill="#111">0.08</text>
<text x="395.85" y="479.44" font-size="7.1" text-anchor="middle" fill="#111">−0.63</text>
<text x="73.85" y="495.52" font-size="7.1" text-anchor="middle" fill="#111">0.49</text>
<text x="89.95" y="495.52" font-size="7.1" text-anchor="middle" fill="#111">−0.14</text>
<text x="106.05" y="495.52" font-size="7.1" text-anchor="middle" fill="#111">0.54</text>
<text x="122.15" y="495.52" font-size="7.1" text-anchor="middle" fill="#111">−0.04</text>
<text x="138.25" y="495.52" font-size="7.1" text-anchor="middle" fill="#111">0.09</text>
<text x="154.35" y="495.52" font-size="7.1" text-anchor="middle" fill="#111">0.3</text>
<text x="170.45" y="495.52" font-size="7.1" text-anchor="middle" fill="#111">−0.1</text>
<text x="186.55" y="495.52" font-size="7.1" text-anchor="middle" fill="#111">−0.1</text>
<text x="202.65" y="495.52" font-size="7.1" text-anchor="middle" fill="#111">−0.43</text>
<text x="218.75" y="495.52" font-size="7.1" text-anchor="middle" fill="#111">−0.3</text>
<text x="234.85" y="495.52" font-size="7.1" text-anchor="middle" fill="#111">−0.16</text>
<text x="250.95" y="495.52" font-size="7.1" text-anchor="middle" fill="#111">0.32</text>
<text x="267.05" y="495.52" font-size="7.1" text-anchor="middle" fill="#111">0</text>
<text x="283.15" y="495.52" font-size="7.1" text-anchor="middle" fill="#111">0.09</text>
<text x="299.25" y="495.52" font-size="7.1" text-anchor="middle" fill="#111">0.08</text>
<text x="315.35" y="495.52" font-size="7.1" text-anchor="middle" fill="#111">0.03</text>
<text x="331.45" y="495.52" font-size="7.1" text-anchor="middle" fill="#111">−0.25</text>
<text x="347.55" y="495.52" font-size="7.1" text-anchor="middle" fill="#111">0.23</text>
<text x="363.65" y="495.52" font-size="7.1" text-anchor="middle" fill="#111">0.27</text>
<text x="379.75" y="495.52" font-size="7.1" text-anchor="middle" fill="#111">−0.04</text>
<text x="395.85" y="495.52" font-size="7.1" text-anchor="middle" fill="#111">−0.28</text>
<text x="57.75" y="511.60" font-size="7.1" text-anchor="middle" fill="#111">−0.01</text>
<text x="73.85" y="511.60" font-size="7.1" text-anchor="middle" fill="#111">−0.09</text>
<text x="89.95" y="511.60" font-size="7.1" text-anchor="middle" fill="#111">0.21</text>
<text x="106.05" y="511.60" font-size="7.1" text-anchor="middle" fill="#111">−0.26</text>
<text x="122.15" y="511.60" font-size="7.1" text-anchor="middle" fill="#111">−0.08</text>
<text x="138.25" y="511.60" font-size="7.1" text-anchor="middle" fill="#111">0.02</text>
<text x="154.35" y="511.60" font-size="7.1" text-anchor="middle" fill="#111">0.18</text>
<text x="170.45" y="511.60" font-size="7.1" text-anchor="middle" fill="#111">0.13</text>
<text x="186.55" y="511.60" font-size="7.1" text-anchor="middle" fill="#111">0.51</text>
<text x="202.65" y="511.60" font-size="7.1" text-anchor="middle" fill="#111">0.18</text>
<text x="218.75" y="511.60" font-size="7.1" text-anchor="middle" fill="#111">0.15</text>
<text x="234.85" y="511.60" font-size="7.1" text-anchor="middle" fill="#111">0.42</text>
<text x="250.95" y="511.60" font-size="7.1" text-anchor="middle" fill="#111">0.09</text>
<text x="267.05" y="511.60" font-size="7.1" text-anchor="middle" fill="#111">−0.04</text>
<text x="283.15" y="511.60" font-size="7.1" text-anchor="middle" fill="#111">−0.03</text>
<text x="299.25" y="511.60" font-size="7.1" text-anchor="middle" fill="#111">−0.22</text>
<text x="315.35" y="511.60" font-size="7.1" text-anchor="middle" fill="#111">0.2</text>
<text x="331.45" y="511.60" font-size="7.1" text-anchor="middle" fill="#111">0.08</text>
<text x="347.55" y="511.60" font-size="7.1" text-anchor="middle" fill="#111">−0.31</text>
<text x="363.65" y="511.60" font-size="7.1" text-anchor="middle" fill="#111">0.28</text>
<text x="379.75" y="511.60" font-size="7.1" text-anchor="middle" fill="#111">0.08</text>
<text x="395.85" y="511.60" font-size="7.1" text-anchor="middle" fill="#111">0.05</text>
<text x="44.60" y="318.24" font-size="7.35" text-anchor="end" fill="#4d4d4d">PCGrimAge</text>
<text x="44.60" y="334.32" font-size="7.35" text-anchor="end" fill="#4d4d4d">GrimAge</text>
<text x="44.60" y="350.40" font-size="7.35" text-anchor="end" fill="#4d4d4d">PCDNAmTL</text>
<text x="44.60" y="366.48" font-size="7.35" text-anchor="end" fill="#4d4d4d">DNAmTL</text>
<text x="44.60" y="382.56" font-size="7.35" text-anchor="end" fill="#4d4d4d">PCPhenoAge</text>
<text x="44.60" y="398.64" font-size="7.35" text-anchor="end" fill="#4d4d4d">PhenoAge</text>
<text x="44.60" y="414.72" font-size="7.35" text-anchor="end" fill="#4d4d4d">PCHannum</text>
<text x="44.60" y="430.80" font-size="7.35" text-anchor="end" fill="#4d4d4d">Hannum</text>
<text x="44.60" y="446.88" font-size="7.35" text-anchor="end" fill="#4d4d4d">PCHorvath2</text>
<text x="44.60" y="462.96" font-size="7.35" text-anchor="end" fill="#4d4d4d">Horvath2</text>
<text x="44.60" y="479.04" font-size="7.35" text-anchor="end" fill="#4d4d4d">PCHorvath1</text>
<text x="44.60" y="495.12" font-size="7.35" text-anchor="end" fill="#4d4d4d">Horvath1</text>
<text x="44.60" y="511.20" font-size="7.35" text-anchor="end" fill="#4d4d4d">Time</text>
<text transform="translate(57.75,521.44) rotate(-45)" font-size="7.35" text-anchor="end" fill="#4d4d4d" dy="0.7em">Horvath1</text>
<text transform="translate(73.85,521.44) rotate(-45)" font-size="7.35" text-anchor="end" fill="#4d4d4d" dy="0.7em">PCHorvath1</text>
<text transform="translate(89.95,521.44) rotate(-45)" font-size="7.35" text-anchor="end" fill="#4d4d4d" dy="0.7em">Horvath2</text>
<text transform="translate(106.05,521.44) rotate(-45)" font-size="7.35" text-anchor="end" fill="#4d4d4d" dy="0.7em">PCHorvath2</text>
<text transform="translate(122.15,521.44) rotate(-45)" font-size="7.35" text-anchor="end" fill="#4d4d4d" dy="0.7em">Hannum</text>
<text transform="translate(138.25,521.44) rotate(-45)" font-size="7.35" text-anchor="end" fill="#4d4d4d" dy="0.7em">PCHannum</text>
<text transform="translate(154.35,521.44) rotate(-45)" font-size="7.35" text-anchor="end" fill="#4d4d4d" dy="0.7em">PhenoAge</text>
<text transform="translate(170.45,521.44) rotate(-45)" font-size="7.35" text-anchor="end" fill="#4d4d4d" dy="0.7em">PCPhenoAge</text>
<text transform="translate(186.55,521.44) rotate(-45)" font-size="7.35" text-anchor="end" fill="#4d4d4d" dy="0.7em">DNAmTL</text>
<text transform="translate(202.65,521.44) rotate(-45)" font-size="7.35" text-anchor="end" fill="#4d4d4d" dy="0.7em">PCDNAmTL</text>
<text transform="translate(218.75,521.44) rotate(-45)" font-size="7.35" text-anchor="end" fill="#4d4d4d" dy="0.7em">GrimAge</text>
<text transform="translate(234.85,521.44) rotate(-45)" font-size="7.35" text-anchor="end" fill="#4d4d4d" dy="0.7em">PCGrimAge</text>
<text transform="translate(250.95,521.44) rotate(-45)" font-size="7.35" text-anchor="end" fill="#4d4d4d" dy="0.7em">PlasmaBlast</text>
<text transform="translate(267.05,521.44) rotate(-45)" font-size="7.35" text-anchor="end" fill="#4d4d4d" dy="0.7em">CD8.exhausted</text>
<text transform="translate(283.15,521.44) rotate(-45)" font-size="7.35" text-anchor="end" fill="#4d4d4d" dy="0.7em">CD8.naive</text>
<text transform="translate(299.25,521.44) rotate(-45)" font-size="7.35" text-anchor="end" fill="#4d4d4d" dy="0.7em">CD8T</text>
<text transform="translate(315.35,521.44) rotate(-45)" font-size="7.35" text-anchor="end" fill="#4d4d4d" dy="0.7em">CD4.naive</text>
<text transform="translate(331.45,521.44) rotate(-45)" font-size="7.35" text-anchor="end" fill="#4d4d4d" dy="0.7em">CD4T</text>
<text transform="translate(347.55,521.44) rotate(-45)" font-size="7.35" text-anchor="end" fill="#4d4d4d" dy="0.7em">NK</text>
<text transform="translate(363.65,521.44) rotate(-45)" font-size="7.35" text-anchor="end" fill="#4d4d4d" dy="0.7em">Mono</text>
<text transform="translate(379.75,521.44) rotate(-45)" font-size="7.35" text-anchor="end" fill="#4d4d4d" dy="0.7em">Gran</text>
<text transform="translate(395.85,521.44) rotate(-45)" font-size="7.35" text-anchor="end" fill="#4d4d4d" dy="0.7em">Bcell</text>
<defs><linearGradient id="g994" x1="0" y1="0" x2="0" y2="1"><stop offset="0.000" stop-color="#ff0000"/><stop offset="0.050" stop-color="#ff3e22"/><stop offset="0.100" stop-color="#ff5b3a"/><stop offset="0.150" stop-color="#ff7352"/><stop offset="0.200" stop-color="#ff8969"/><stop offset="0.250" stop-color="#ff9e81"/><stop offset="0.300" stop-color="#ffb299"/><stop offset="0.350" stop-color="#ffc6b2"/><stop offset="0.400" stop-color="#ffd9cb"/><stop offset="0.450" stop-color="#ffece5"/><stop offset="0.500" stop-color="#ffffff"/><stop offset="0.550" stop-color="#f2e7ff"/><stop offset="0.600" stop-color="#e3d0ff"/><stop offset="0.650" stop-color="#d4b9ff"/><stop offset="0.700" stop-color="#c4a2ff"/><stop offset="0.750" stop-color="#b38bff"/><stop offset="0.800" stop-color="#a074ff"/><stop offset="0.850" stop-color="#8a5dff"/><stop offset="0.900" stop-color="#7145ff"/><stop offset="0.950" stop-color="#502bff"/><stop offset="1.000" stop-color="#0000ff"/></linearGradient></defs>
<rect x="416" y="390.4" width="11" height="53.6" fill="url(#g994)"/>
<text x="416.00" y="386.00" font-size="7.35" text-anchor="start" fill="#000">Corr</text>
<line x1="416" y1="390.40" x2="418.2" y2="390.40" stroke="#fff" stroke-width="0.5"/>
<line x1="424.8" y1="390.40" x2="427" y2="390.40" stroke="#fff" stroke-width="0.5"/>
<text x="430.40" y="392.60" font-size="5.9" text-anchor="start" fill="#4d4d4d">1.0</text>
<line x1="416" y1="403.80" x2="418.2" y2="403.80" stroke="#fff" stroke-width="0.5"/>
<line x1="424.8" y1="403.80" x2="427" y2="403.80" stroke="#fff" stroke-width="0.5"/>
<text x="430.40" y="406.00" font-size="5.9" text-anchor="start" fill="#4d4d4d">0.5</text>
<line x1="416" y1="417.20" x2="418.2" y2="417.20" stroke="#fff" stroke-width="0.5"/>
<line x1="424.8" y1="417.20" x2="427" y2="417.20" stroke="#fff" stroke-width="0.5"/>
<text x="430.40" y="419.40" font-size="5.9" text-anchor="start" fill="#4d4d4d">0.0</text>
<line x1="416" y1="430.60" x2="418.2" y2="430.60" stroke="#fff" stroke-width="0.5"/>
<line x1="424.8" y1="430.60" x2="427" y2="430.60" stroke="#fff" stroke-width="0.5"/>
<text x="430.40" y="432.80" font-size="5.9" text-anchor="start" fill="#4d4d4d">−0.5</text>
<line x1="416" y1="444.00" x2="418.2" y2="444.00" stroke="#fff" stroke-width="0.5"/>
<line x1="424.8" y1="444.00" x2="427" y2="444.00" stroke="#fff" stroke-width="0.5"/>
<text x="430.40" y="446.20" font-size="5.9" text-anchor="start" fill="#4d4d4d">−1.0</text>
<text x="3.2" y="11.5" font-size="9.6" font-weight="bold">a</text>
<text x="56" y="10.90" font-size="7" text-anchor="end" fill="#333">PCGrimAge</text>
<text x="56" y="30.92" font-size="7" text-anchor="end" fill="#333">GrimAge</text>
<text x="56" y="50.94" font-size="7" text-anchor="end" fill="#333">PCPhenoAge</text>
<text x="56" y="70.96" font-size="7" text-anchor="end" fill="#333">PhenoAge</text>
<text x="56" y="90.98" font-size="7" text-anchor="end" fill="#333">PCDNAmTL</text>
<text x="56" y="111.00" font-size="7" text-anchor="end" fill="#333">DNAmTL</text>
<text x="56" y="131.02" font-size="7" text-anchor="end" fill="#333">PCHannum</text>
<text x="56" y="151.04" font-size="7" text-anchor="end" fill="#333">Hannum</text>
<text x="56" y="171.06" font-size="7" text-anchor="end" fill="#333">PCHorvath2</text>
<text x="56" y="191.08" font-size="7" text-anchor="end" fill="#333">Horvath2</text>
<text x="56" y="211.10" font-size="7" text-anchor="end" fill="#333">PCHorvath1</text>
<text x="56" y="231.12" font-size="7" text-anchor="end" fill="#333">Horvath1</text>
<line x1="60.8" y1="9.30" x2="208.7" y2="9.30" stroke="#111" stroke-width="1.0"/>
<path d="M168.00,9.30 C168.33,9.22 169.35,8.98 170.00,8.80 C170.65,8.62 171.32,8.18 171.90,8.20 C172.48,8.22 172.98,8.72 173.50,8.90 C174.02,9.08 174.37,9.28 175.00,9.30 C175.63,9.32 176.70,9.58 177.30,9.00 C177.90,8.42 178.13,6.97 178.60,5.80 C179.07,4.63 179.47,2.77 180.10,2.00 C180.73,1.23 181.63,1.20 182.40,1.20 C183.17,1.20 183.82,1.70 184.70,2.00 C185.58,2.30 186.88,3.12 187.70,3.00 C188.52,2.88 189.00,1.88 189.60,1.30 C190.20,0.72 190.68,-0.72 191.30,-0.50 C191.92,-0.28 192.75,1.57 193.30,2.60 C193.85,3.63 194.07,4.98 194.60,5.70 C195.13,6.42 195.63,6.53 196.50,6.90 C197.37,7.27 198.70,7.52 199.80,7.90 C200.90,8.28 202.23,8.97 203.10,9.20 C203.97,9.43 204.68,9.28 205.00,9.30 Z" fill="#0a0aee" stroke="none"/>
<path d="M168.00,9.30 C168.33,9.22 169.35,8.98 170.00,8.80 C170.65,8.62 171.32,8.18 171.90,8.20 C172.48,8.22 172.98,8.72 173.50,8.90 C174.02,9.08 174.37,9.28 175.00,9.30 C175.63,9.32 176.70,9.58 177.30,9.00 C177.90,8.42 178.13,6.97 178.60,5.80 C179.07,4.63 179.47,2.77 180.10,2.00 C180.73,1.23 181.63,1.20 182.40,1.20 C183.17,1.20 183.82,1.70 184.70,2.00 C185.58,2.30 186.88,3.12 187.70,3.00 C188.52,2.88 189.00,1.88 189.60,1.30 C190.20,0.72 190.68,-0.72 191.30,-0.50 C191.92,-0.28 192.75,1.57 193.30,2.60 C193.85,3.63 194.07,4.98 194.60,5.70 C195.13,6.42 195.63,6.53 196.50,6.90 C197.37,7.27 198.70,7.52 199.80,7.90 C200.90,8.28 202.23,8.97 203.10,9.20 C203.97,9.43 204.68,9.28 205.00,9.30" fill="none" stroke="#111" stroke-width="1.05" stroke-linejoin="round"/>
<line x1="60.8" y1="29.32" x2="208.7" y2="29.32" stroke="#111" stroke-width="1.0"/>
<path d="M176.00,29.32 C176.33,28.82 177.25,27.79 178.00,26.32 C178.75,24.85 179.67,21.14 180.50,20.50 C181.33,19.86 182.25,22.58 183.00,22.50 C183.75,22.42 184.38,20.72 185.00,20.00 C185.62,19.28 186.12,18.28 186.70,18.20 C187.28,18.12 187.87,18.70 188.50,19.50 C189.13,20.30 189.87,22.75 190.50,23.00 C191.13,23.25 191.73,21.47 192.30,21.00 C192.87,20.53 193.42,19.95 193.90,20.20 C194.38,20.45 194.82,21.68 195.20,22.50 C195.58,23.32 195.82,24.58 196.20,25.10 C196.58,25.62 197.07,25.48 197.50,25.60 C197.93,25.72 198.33,25.60 198.80,25.80 C199.27,26.00 199.80,26.40 200.30,26.80 C200.80,27.20 201.18,27.83 201.80,28.20 C202.42,28.57 203.02,28.81 204.00,29.00 C204.98,29.19 207.08,29.27 207.70,29.32 Z" fill="#f78585" stroke="none"/>
<path d="M176.00,29.32 C176.33,28.82 177.25,27.79 178.00,26.32 C178.75,24.85 179.67,21.14 180.50,20.50 C181.33,19.86 182.25,22.58 183.00,22.50 C183.75,22.42 184.38,20.72 185.00,20.00 C185.62,19.28 186.12,18.28 186.70,18.20 C187.28,18.12 187.87,18.70 188.50,19.50 C189.13,20.30 189.87,22.75 190.50,23.00 C191.13,23.25 191.73,21.47 192.30,21.00 C192.87,20.53 193.42,19.95 193.90,20.20 C194.38,20.45 194.82,21.68 195.20,22.50 C195.58,23.32 195.82,24.58 196.20,25.10 C196.58,25.62 197.07,25.48 197.50,25.60 C197.93,25.72 198.33,25.60 198.80,25.80 C199.27,26.00 199.80,26.40 200.30,26.80 C200.80,27.20 201.18,27.83 201.80,28.20 C202.42,28.57 203.02,28.81 204.00,29.00 C204.98,29.19 207.08,29.27 207.70,29.32" fill="none" stroke="#111" stroke-width="1.05" stroke-linejoin="round"/>
<path d="M168.90,29.32 C169.17,29.12 170.00,28.44 170.50,28.12 C171.00,27.80 171.42,27.35 171.90,27.40 C172.38,27.45 172.90,28.13 173.40,28.40 C173.90,28.67 174.38,29.20 174.90,29.02 C175.42,28.84 175.90,28.16 176.50,27.32 C177.10,26.48 177.92,25.14 178.50,24.00 C179.08,22.86 179.57,21.30 180.00,20.50 C180.43,19.70 180.68,19.25 181.10,19.20 C181.52,19.15 182.02,19.65 182.50,20.20 C182.98,20.75 183.52,21.90 184.00,22.50 C184.48,23.10 184.98,23.97 185.40,23.80 C185.82,23.63 186.12,22.15 186.50,21.50 C186.88,20.85 187.25,19.90 187.70,19.90 C188.15,19.90 188.60,20.73 189.20,21.50 C189.80,22.27 190.62,23.73 191.30,24.50 C191.98,25.27 192.43,25.62 193.30,26.10 C194.17,26.58 195.30,26.95 196.50,27.40 C197.70,27.85 199.25,28.48 200.50,28.80 C201.75,29.12 203.42,29.23 204.00,29.32 Z" fill="#8585ff" stroke="none"/>
<path d="M168.90,29.32 C169.17,29.12 170.00,28.44 170.50,28.12 C171.00,27.80 171.42,27.35 171.90,27.40 C172.38,27.45 172.90,28.13 173.40,28.40 C173.90,28.67 174.38,29.20 174.90,29.02 C175.42,28.84 175.90,28.16 176.50,27.32 C177.10,26.48 177.92,25.14 178.50,24.00 C179.08,22.86 179.57,21.30 180.00,20.50 C180.43,19.70 180.68,19.25 181.10,19.20 C181.52,19.15 182.02,19.65 182.50,20.20 C182.98,20.75 183.52,21.90 184.00,22.50 C184.48,23.10 184.98,23.97 185.40,23.80 C185.82,23.63 186.12,22.15 186.50,21.50 C186.88,20.85 187.25,19.90 187.70,19.90 C188.15,19.90 188.60,20.73 189.20,21.50 C189.80,22.27 190.62,23.73 191.30,24.50 C191.98,25.27 192.43,25.62 193.30,26.10 C194.17,26.58 195.30,26.95 196.50,27.40 C197.70,27.85 199.25,28.48 200.50,28.80 C201.75,29.12 203.42,29.23 204.00,29.32" fill="none" stroke="#111" stroke-width="1.05" stroke-linejoin="round"/>
<line x1="60.8" y1="49.34" x2="208.7" y2="49.34" stroke="#111" stroke-width="1.0"/>
<path d="M131.50,49.34 C131.75,48.12 132.48,44.39 133.00,42.00 C133.52,39.61 134.05,36.67 134.60,35.00 C135.15,33.33 135.77,32.62 136.30,32.00 C136.83,31.38 137.30,31.17 137.80,31.30 C138.30,31.43 138.85,31.98 139.30,32.80 C139.75,33.62 140.08,34.92 140.50,36.20 C140.92,37.48 141.35,38.95 141.80,40.50 C142.25,42.05 142.73,44.03 143.20,45.50 C143.67,46.97 144.37,48.70 144.60,49.34 Z" fill="#ee0a0a" stroke="none"/>
<path d="M131.50,49.34 C131.75,48.12 132.48,44.39 133.00,42.00 C133.52,39.61 134.05,36.67 134.60,35.00 C135.15,33.33 135.77,32.62 136.30,32.00 C136.83,31.38 137.30,31.17 137.80,31.30 C138.30,31.43 138.85,31.98 139.30,32.80 C139.75,33.62 140.08,34.92 140.50,36.20 C140.92,37.48 141.35,38.95 141.80,40.50 C142.25,42.05 142.73,44.03 143.20,45.50 C143.67,46.97 144.37,48.70 144.60,49.34" fill="none" stroke="#111" stroke-width="1.05" stroke-linejoin="round"/>
<path d="M129.30,49.34 C129.48,48.87 130.00,47.89 130.40,46.50 C130.80,45.11 131.27,42.83 131.70,41.00 C132.13,39.17 132.55,36.93 133.00,35.50 C133.45,34.07 133.90,33.03 134.40,32.40 C134.90,31.77 135.50,31.75 136.00,31.70 C136.50,31.65 136.97,31.68 137.40,32.10 C137.83,32.52 138.22,33.25 138.60,34.20 C138.98,35.15 139.32,36.42 139.70,37.80 C140.08,39.18 140.48,40.93 140.90,42.50 C141.32,44.07 141.82,46.06 142.20,47.20 C142.58,48.34 143.03,48.98 143.20,49.34 Z" fill="#0a0aee" stroke="none"/>
<path d="M129.30,49.34 C129.48,48.87 130.00,47.89 130.40,46.50 C130.80,45.11 131.27,42.83 131.70,41.00 C132.13,39.17 132.55,36.93 133.00,35.50 C133.45,34.07 133.90,33.03 134.40,32.40 C134.90,31.77 135.50,31.75 136.00,31.70 C136.50,31.65 136.97,31.68 137.40,32.10 C137.83,32.52 138.22,33.25 138.60,34.20 C138.98,35.15 139.32,36.42 139.70,37.80 C140.08,39.18 140.48,40.93 140.90,42.50 C141.32,44.07 141.82,46.06 142.20,47.20 C142.58,48.34 143.03,48.98 143.20,49.34" fill="none" stroke="#111" stroke-width="1.05" stroke-linejoin="round"/>
<line x1="60.8" y1="69.36" x2="208.7" y2="69.36" stroke="#111" stroke-width="1.0"/>
<path d="M76.00,69.36 C76.25,68.27 76.90,63.93 77.50,62.80 C78.10,61.67 79.00,62.67 79.60,62.60 C80.20,62.53 80.50,62.62 81.10,62.40 C81.70,62.18 82.63,61.27 83.20,61.30 C83.77,61.33 84.05,61.85 84.50,62.60 C84.95,63.35 85.52,64.90 85.90,65.80 C86.28,66.70 86.45,67.41 86.80,68.00 C87.15,68.59 87.80,69.13 88.00,69.36 Z" fill="#f78585" stroke="none"/>
<path d="M76.00,69.36 C76.25,68.27 76.90,63.93 77.50,62.80 C78.10,61.67 79.00,62.67 79.60,62.60 C80.20,62.53 80.50,62.62 81.10,62.40 C81.70,62.18 82.63,61.27 83.20,61.30 C83.77,61.33 84.05,61.85 84.50,62.60 C84.95,63.35 85.52,64.90 85.90,65.80 C86.28,66.70 86.45,67.41 86.80,68.00 C87.15,68.59 87.80,69.13 88.00,69.36" fill="none" stroke="#111" stroke-width="1.05" stroke-linejoin="round"/>
<path d="M61.20,69.36 C61.63,69.20 62.93,69.09 63.80,68.40 C64.67,67.71 65.43,66.57 66.40,65.20 C67.37,63.83 68.72,61.25 69.60,60.20 C70.48,59.15 70.92,59.55 71.70,58.90 C72.48,58.25 73.60,56.47 74.30,56.30 C75.00,56.13 75.47,57.28 75.90,57.90 C76.33,58.52 76.47,59.23 76.90,60.00 C77.33,60.77 77.97,61.75 78.50,62.50 C79.03,63.25 79.57,63.70 80.10,64.50 C80.63,65.30 81.00,66.65 81.70,67.30 C82.40,67.95 83.35,68.06 84.30,68.40 C85.25,68.74 86.88,69.20 87.40,69.36 Z" fill="#8585ff" stroke="none"/>
<path d="M61.20,69.36 C61.63,69.20 62.93,69.09 63.80,68.40 C64.67,67.71 65.43,66.57 66.40,65.20 C67.37,63.83 68.72,61.25 69.60,60.20 C70.48,59.15 70.92,59.55 71.70,58.90 C72.48,58.25 73.60,56.47 74.30,56.30 C75.00,56.13 75.47,57.28 75.90,57.90 C76.33,58.52 76.47,59.23 76.90,60.00 C77.33,60.77 77.97,61.75 78.50,62.50 C79.03,63.25 79.57,63.70 80.10,64.50 C80.63,65.30 81.00,66.65 81.70,67.30 C82.40,67.95 83.35,68.06 84.30,68.40 C85.25,68.74 86.88,69.20 87.40,69.36" fill="none" stroke="#111" stroke-width="1.05" stroke-linejoin="round"/>
<line x1="60.8" y1="89.38" x2="208.7" y2="89.38" stroke="#111" stroke-width="1.0"/>
<path d="M74.20,89.38 C74.38,89.03 74.95,88.70 75.30,87.30 C75.65,85.90 76.00,83.72 76.30,81.00 C76.60,78.28 76.88,74.42 77.10,71.00 C77.32,67.58 77.45,63.42 77.60,60.50 C77.75,57.58 77.85,53.92 78.00,53.50 C78.15,53.08 78.33,56.08 78.50,58.00 C78.67,59.92 78.80,62.33 79.00,65.00 C79.20,67.67 79.45,71.17 79.70,74.00 C79.95,76.83 80.23,79.75 80.50,82.00 C80.77,84.25 81.02,86.27 81.30,87.50 C81.58,88.73 82.05,89.07 82.20,89.38 Z" fill="#8585ff" stroke="none"/>
<path d="M74.20,89.38 C74.38,89.03 74.95,88.70 75.30,87.30 C75.65,85.90 76.00,83.72 76.30,81.00 C76.60,78.28 76.88,74.42 77.10,71.00 C77.32,67.58 77.45,63.42 77.60,60.50 C77.75,57.58 77.85,53.92 78.00,53.50 C78.15,53.08 78.33,56.08 78.50,58.00 C78.67,59.92 78.80,62.33 79.00,65.00 C79.20,67.67 79.45,71.17 79.70,74.00 C79.95,76.83 80.23,79.75 80.50,82.00 C80.77,84.25 81.02,86.27 81.30,87.50 C81.58,88.73 82.05,89.07 82.20,89.38" fill="none" stroke="#111" stroke-width="1.05" stroke-linejoin="round"/>
<line x1="60.8" y1="109.40" x2="208.7" y2="109.40" stroke="#111" stroke-width="1.0"/>
<path d="M73.00,109.40 C73.23,108.58 74.00,106.73 74.40,104.50 C74.80,102.27 75.08,99.17 75.40,96.00 C75.72,92.83 76.05,88.58 76.30,85.50 C76.55,82.42 76.73,79.37 76.90,77.50 C77.07,75.63 77.15,74.30 77.30,74.30 C77.45,74.30 77.60,75.63 77.80,77.50 C78.00,79.37 78.22,82.42 78.50,85.50 C78.78,88.58 79.18,92.83 79.50,96.00 C79.82,99.17 80.07,102.27 80.40,104.50 C80.73,106.73 81.32,108.58 81.50,109.40 Z" fill="#0a0aee" stroke="none"/>
<path d="M73.00,109.40 C73.23,108.58 74.00,106.73 74.40,104.50 C74.80,102.27 75.08,99.17 75.40,96.00 C75.72,92.83 76.05,88.58 76.30,85.50 C76.55,82.42 76.73,79.37 76.90,77.50 C77.07,75.63 77.15,74.30 77.30,74.30 C77.45,74.30 77.60,75.63 77.80,77.50 C78.00,79.37 78.22,82.42 78.50,85.50 C78.78,88.58 79.18,92.83 79.50,96.00 C79.82,99.17 80.07,102.27 80.40,104.50 C80.73,106.73 81.32,108.58 81.50,109.40" fill="none" stroke="#111" stroke-width="1.05" stroke-linejoin="round"/>
<line x1="60.8" y1="129.42" x2="208.7" y2="129.42" stroke="#111" stroke-width="1.0"/>
<path d="M127.40,129.42 C127.70,129.10 128.63,128.90 129.20,127.50 C129.77,126.10 130.32,123.42 130.80,121.00 C131.28,118.58 131.70,115.33 132.10,113.00 C132.50,110.67 132.85,108.33 133.20,107.00 C133.55,105.67 133.87,105.00 134.20,105.00 C134.53,105.00 134.85,105.67 135.20,107.00 C135.55,108.33 135.90,110.67 136.30,113.00 C136.70,115.33 137.15,118.58 137.60,121.00 C138.05,123.42 138.53,126.10 139.00,127.50 C139.47,128.90 140.17,129.10 140.40,129.42 Z" fill="#8585ff" stroke="none"/>
<path d="M127.40,129.42 C127.70,129.10 128.63,128.90 129.20,127.50 C129.77,126.10 130.32,123.42 130.80,121.00 C131.28,118.58 131.70,115.33 132.10,113.00 C132.50,110.67 132.85,108.33 133.20,107.00 C133.55,105.67 133.87,105.00 134.20,105.00 C134.53,105.00 134.85,105.67 135.20,107.00 C135.55,108.33 135.90,110.67 136.30,113.00 C136.70,115.33 137.15,118.58 137.60,121.00 C138.05,123.42 138.53,126.10 139.00,127.50 C139.47,128.90 140.17,129.10 140.40,129.42" fill="none" stroke="#111" stroke-width="1.05" stroke-linejoin="round"/>
<line x1="60.8" y1="149.44" x2="208.7" y2="149.44" stroke="#111" stroke-width="1.0"/>
<path d="M105.60,149.44 C105.77,149.34 106.30,148.97 106.60,148.84 C106.90,148.71 107.12,148.61 107.40,148.64 C107.68,148.67 108.00,148.91 108.30,149.04 C108.60,149.17 109.05,149.37 109.20,149.44 Z" fill="#ee0a0a" stroke="none"/>
<path d="M105.60,149.44 C105.77,149.34 106.30,148.97 106.60,148.84 C106.90,148.71 107.12,148.61 107.40,148.64 C107.68,148.67 108.00,148.91 108.30,149.04 C108.60,149.17 109.05,149.37 109.20,149.44" fill="none" stroke="#111" stroke-width="1.05" stroke-linejoin="round"/>
<path d="M111.40,149.44 C111.60,148.87 112.17,146.97 112.60,146.00 C113.03,145.03 113.55,144.12 114.00,143.60 C114.45,143.08 114.72,143.33 115.30,142.90 C115.88,142.47 116.62,141.92 117.50,141.00 C118.38,140.08 119.75,137.65 120.60,137.40 C121.45,137.15 121.95,138.87 122.60,139.50 C123.25,140.13 123.85,140.45 124.50,141.20 C125.15,141.95 125.95,142.93 126.50,144.00 C127.05,145.07 127.45,146.69 127.80,147.60 C128.15,148.51 128.47,149.13 128.60,149.44 Z" fill="#ee0a0a" stroke="none"/>
<path d="M111.40,149.44 C111.60,148.87 112.17,146.97 112.60,146.00 C113.03,145.03 113.55,144.12 114.00,143.60 C114.45,143.08 114.72,143.33 115.30,142.90 C115.88,142.47 116.62,141.92 117.50,141.00 C118.38,140.08 119.75,137.65 120.60,137.40 C121.45,137.15 121.95,138.87 122.60,139.50 C123.25,140.13 123.85,140.45 124.50,141.20 C125.15,141.95 125.95,142.93 126.50,144.00 C127.05,145.07 127.45,146.69 127.80,147.60 C128.15,148.51 128.47,149.13 128.60,149.44" fill="none" stroke="#111" stroke-width="1.05" stroke-linejoin="round"/>
<path d="M128.20,149.44 C128.57,148.87 129.70,147.02 130.40,146.00 C131.10,144.98 131.72,144.30 132.40,143.30 C133.08,142.30 133.77,141.30 134.50,140.00 C135.23,138.70 136.12,135.73 136.80,135.50 C137.48,135.27 137.95,137.25 138.60,138.60 C139.25,139.95 139.97,142.37 140.70,143.60 C141.43,144.83 142.20,145.18 143.00,146.00 C143.80,146.82 144.78,147.93 145.50,148.50 C146.22,149.07 147.00,149.28 147.30,149.44 Z" fill="#0a0aee" stroke="none"/>
<path d="M128.20,149.44 C128.57,148.87 129.70,147.02 130.40,146.00 C131.10,144.98 131.72,144.30 132.40,143.30 C133.08,142.30 133.77,141.30 134.50,140.00 C135.23,138.70 136.12,135.73 136.80,135.50 C137.48,135.27 137.95,137.25 138.60,138.60 C139.25,139.95 139.97,142.37 140.70,143.60 C141.43,144.83 142.20,145.18 143.00,146.00 C143.80,146.82 144.78,147.93 145.50,148.50 C146.22,149.07 147.00,149.28 147.30,149.44" fill="none" stroke="#111" stroke-width="1.05" stroke-linejoin="round"/>
<line x1="60.8" y1="169.46" x2="208.7" y2="169.46" stroke="#111" stroke-width="1.0"/>
<path d="M94.50,169.46 C94.83,169.05 95.83,168.49 96.50,167.00 C97.17,165.51 97.83,162.40 98.50,160.50 C99.17,158.60 99.90,156.63 100.50,155.60 C101.10,154.57 101.57,154.30 102.10,154.30 C102.63,154.30 103.13,154.57 103.70,155.60 C104.27,156.63 104.87,158.68 105.50,160.50 C106.13,162.32 106.92,165.12 107.50,166.50 C108.08,167.88 108.43,168.31 109.00,168.80 C109.57,169.29 110.58,169.35 110.90,169.46 Z" fill="#8585ff" stroke="none"/>
<path d="M94.50,169.46 C94.83,169.05 95.83,168.49 96.50,167.00 C97.17,165.51 97.83,162.40 98.50,160.50 C99.17,158.60 99.90,156.63 100.50,155.60 C101.10,154.57 101.57,154.30 102.10,154.30 C102.63,154.30 103.13,154.57 103.70,155.60 C104.27,156.63 104.87,158.68 105.50,160.50 C106.13,162.32 106.92,165.12 107.50,166.50 C108.08,167.88 108.43,168.31 109.00,168.80 C109.57,169.29 110.58,169.35 110.90,169.46" fill="none" stroke="#111" stroke-width="1.05" stroke-linejoin="round"/>
<line x1="60.8" y1="189.48" x2="208.7" y2="189.48" stroke="#111" stroke-width="1.0"/>
<path d="M85.00,189.48 C85.50,188.23 87.08,184.21 88.00,182.00 C88.92,179.79 89.60,177.30 90.50,176.20 C91.40,175.10 92.48,174.85 93.40,175.40 C94.32,175.95 95.07,177.90 96.00,179.50 C96.93,181.10 98.08,183.47 99.00,185.00 C99.92,186.53 100.88,187.95 101.50,188.70 C102.12,189.45 102.50,189.35 102.70,189.48 Z" fill="#ee0a0a" stroke="none"/>
<path d="M85.00,189.48 C85.50,188.23 87.08,184.21 88.00,182.00 C88.92,179.79 89.60,177.30 90.50,176.20 C91.40,175.10 92.48,174.85 93.40,175.40 C94.32,175.95 95.07,177.90 96.00,179.50 C96.93,181.10 98.08,183.47 99.00,185.00 C99.92,186.53 100.88,187.95 101.50,188.70 C102.12,189.45 102.50,189.35 102.70,189.48" fill="none" stroke="#111" stroke-width="1.05" stroke-linejoin="round"/>
<path d="M81.70,189.48 C82.08,188.98 83.20,187.66 84.00,186.50 C84.80,185.34 85.75,183.92 86.50,182.50 C87.25,181.08 87.75,179.38 88.50,178.00 C89.25,176.62 90.33,174.70 91.00,174.20 C91.67,173.70 92.08,174.70 92.50,175.00 C92.92,175.30 93.08,175.17 93.50,176.00 C93.92,176.83 94.50,178.58 95.00,180.00 C95.50,181.42 96.00,183.08 96.50,184.50 C97.00,185.92 97.58,187.67 98.00,188.50 C98.42,189.33 98.83,189.32 99.00,189.48 Z" fill="#0a0aee" stroke="none"/>
<path d="M81.70,189.48 C82.08,188.98 83.20,187.66 84.00,186.50 C84.80,185.34 85.75,183.92 86.50,182.50 C87.25,181.08 87.75,179.38 88.50,178.00 C89.25,176.62 90.33,174.70 91.00,174.20 C91.67,173.70 92.08,174.70 92.50,175.00 C92.92,175.30 93.08,175.17 93.50,176.00 C93.92,176.83 94.50,178.58 95.00,180.00 C95.50,181.42 96.00,183.08 96.50,184.50 C97.00,185.92 97.58,187.67 98.00,188.50 C98.42,189.33 98.83,189.32 99.00,189.48" fill="none" stroke="#111" stroke-width="1.05" stroke-linejoin="round"/>
<line x1="60.8" y1="209.50" x2="208.7" y2="209.50" stroke="#111" stroke-width="1.0"/>
<path d="M126.60,209.50 C127.00,208.83 128.18,207.00 129.00,205.50 C129.82,204.00 130.75,201.92 131.50,200.50 C132.25,199.08 132.95,197.68 133.50,197.00 C134.05,196.32 134.30,196.23 134.80,196.40 C135.30,196.57 135.97,197.23 136.50,198.00 C137.03,198.77 137.42,200.10 138.00,201.00 C138.58,201.90 139.33,202.73 140.00,203.40 C140.67,204.07 141.25,204.23 142.00,205.00 C142.75,205.77 143.75,207.25 144.50,208.00 C145.25,208.75 146.17,209.25 146.50,209.50 Z" fill="#0a0aee" stroke="none"/>
<path d="M126.60,209.50 C127.00,208.83 128.18,207.00 129.00,205.50 C129.82,204.00 130.75,201.92 131.50,200.50 C132.25,199.08 132.95,197.68 133.50,197.00 C134.05,196.32 134.30,196.23 134.80,196.40 C135.30,196.57 135.97,197.23 136.50,198.00 C137.03,198.77 137.42,200.10 138.00,201.00 C138.58,201.90 139.33,202.73 140.00,203.40 C140.67,204.07 141.25,204.23 142.00,205.00 C142.75,205.77 143.75,207.25 144.50,208.00 C145.25,208.75 146.17,209.25 146.50,209.50" fill="none" stroke="#111" stroke-width="1.05" stroke-linejoin="round"/>
<line x1="60.8" y1="229.52" x2="208.7" y2="229.52" stroke="#111" stroke-width="1.0"/>
<path d="M134.10,229.52 C134.50,229.02 135.68,227.67 136.50,226.50 C137.32,225.33 138.38,223.35 139.00,222.50 C139.62,221.65 139.70,221.58 140.20,221.40 C140.70,221.22 141.03,221.50 142.00,221.40 C142.97,221.30 144.67,220.87 146.00,220.80 C147.33,220.73 149.00,220.88 150.00,221.00 C151.00,221.12 151.42,220.92 152.00,221.50 C152.58,222.08 153.00,223.50 153.50,224.50 C154.00,225.50 154.25,226.66 155.00,227.50 C155.75,228.34 157.50,229.18 158.00,229.52 Z" fill="#f78585" stroke="none"/>
<path d="M134.10,229.52 C134.50,229.02 135.68,227.67 136.50,226.50 C137.32,225.33 138.38,223.35 139.00,222.50 C139.62,221.65 139.70,221.58 140.20,221.40 C140.70,221.22 141.03,221.50 142.00,221.40 C142.97,221.30 144.67,220.87 146.00,220.80 C147.33,220.73 149.00,220.88 150.00,221.00 C151.00,221.12 151.42,220.92 152.00,221.50 C152.58,222.08 153.00,223.50 153.50,224.50 C154.00,225.50 154.25,226.66 155.00,227.50 C155.75,228.34 157.50,229.18 158.00,229.52" fill="none" stroke="#111" stroke-width="1.05" stroke-linejoin="round"/>
<path d="M137.00,229.52 C137.42,228.93 138.75,227.25 139.50,226.00 C140.25,224.75 140.97,222.80 141.50,222.00 C142.03,221.20 142.12,221.32 142.70,221.20 C143.28,221.08 144.12,221.40 145.00,221.30 C145.88,221.20 147.08,220.68 148.00,220.60 C148.92,220.52 149.72,220.70 150.50,220.80 C151.28,220.90 152.12,220.58 152.70,221.20 C153.28,221.82 153.57,223.50 154.00,224.50 C154.43,225.50 154.72,226.82 155.30,227.20 C155.88,227.58 156.80,226.83 157.50,226.80 C158.20,226.77 158.83,226.80 159.50,227.00 C160.17,227.20 160.92,227.65 161.50,228.00 C162.08,228.35 162.58,228.85 163.00,229.10 C163.42,229.35 163.83,229.45 164.00,229.52 Z" fill="#8585ff" stroke="none"/>
<path d="M137.00,229.52 C137.42,228.93 138.75,227.25 139.50,226.00 C140.25,224.75 140.97,222.80 141.50,222.00 C142.03,221.20 142.12,221.32 142.70,221.20 C143.28,221.08 144.12,221.40 145.00,221.30 C145.88,221.20 147.08,220.68 148.00,220.60 C148.92,220.52 149.72,220.70 150.50,220.80 C151.28,220.90 152.12,220.58 152.70,221.20 C153.28,221.82 153.57,223.50 154.00,224.50 C154.43,225.50 154.72,226.82 155.30,227.20 C155.88,227.58 156.80,226.83 157.50,226.80 C158.20,226.77 158.83,226.80 159.50,227.00 C160.17,227.20 160.92,227.65 161.50,228.00 C162.08,228.35 162.58,228.85 163.00,229.10 C163.42,229.35 163.83,229.45 164.00,229.52" fill="none" stroke="#111" stroke-width="1.05" stroke-linejoin="round"/>
<line x1="68.30" y1="240.9" x2="68.30" y2="243.6" stroke="#333" stroke-width="0.9"/>
<text x="68.30" y="252.7" font-size="7" text-anchor="middle" fill="#4d4d4d">0</text>
<line x1="106.77" y1="240.9" x2="106.77" y2="243.6" stroke="#333" stroke-width="0.9"/>
<text x="106.77" y="252.7" font-size="7" text-anchor="middle" fill="#4d4d4d">30</text>
<line x1="145.24" y1="240.9" x2="145.24" y2="243.6" stroke="#333" stroke-width="0.9"/>
<text x="145.24" y="252.7" font-size="7" text-anchor="middle" fill="#4d4d4d">60</text>
<line x1="183.71" y1="240.9" x2="183.71" y2="243.6" stroke="#333" stroke-width="0.9"/>
<text x="183.71" y="252.7" font-size="7" text-anchor="middle" fill="#4d4d4d">90</text>
<text x="129.8" y="266.6" font-size="9.4" text-anchor="middle" fill="#111">Predicted Age</text>
<text x="217" y="104" font-size="7.05" fill="#111">Cohort</text>
<rect x="217.8" y="108.6" width="12.6" height="12.8" fill="#ff7f7f" stroke="#2a0000" stroke-width="0.9"/>
<rect x="217.8" y="123.2" width="12.6" height="12.8" fill="#7f7fff" stroke="#00002a" stroke-width="0.9"/>
<text x="235.6" y="117.6" font-size="7" fill="#111">1Ai</text>
<text x="235.6" y="131.8" font-size="7" fill="#111">1Aii</text>
<text x="3.0" y="580.2" font-size="9.6" font-weight="bold">d</text>
<text x="28.5" y="580.6" font-size="9.45" font-weight="bold">Clozapine Trajectories</text>
<clipPath id="c30602"><rect x="30.6" y="602.5" width="72.19999999999999" height="77.60000000000002"/></clipPath>
<g clip-path="url(#c30602)" fill="none" stroke-opacity="0.82" stroke-width="1.1" stroke-linejoin="round" stroke-linecap="round">
<polyline points="33.83,642.92 46.42,619.71 68.87,628.69" stroke="#DE8C00"/>
<polyline points="33.83,642.92 57.37,635.26 75.44,629.02 99.53,633.94" stroke="#B79F00"/>
<polyline points="33.83,642.92 53.54,626.28 72.15,655.29" stroke="#00BA38"/>
<polyline points="33.83,642.92 55.18,662.19 70.51,645.99" stroke="#A3A500"/>
<polyline points="33.83,642.92 43.14,665.48 81.46,660.00" stroke="#F564E3"/>
<polyline points="33.83,642.92 50.26,631.21 71.06,632.63" stroke="#619CFF"/>
<polyline points="33.83,642.92 57.37,640.73 81.46,638.54" stroke="#F8766D"/>
<polyline points="33.83,642.92 54.64,652.34 78.72,638.32" stroke="#00BFC4"/>
<polyline points="33.83,642.92 56.28,648.72 72.15,655.29" stroke="#00C08B"/>
<polyline points="33.83,642.92 57.37,644.34 75.99,648.18" stroke="#00B4F0"/>
<polyline points="33.83,642.92 62.85,645.44 75.99,648.18" stroke="#C77CFF"/>
<polyline points="33.83,642.92 54.09,651.24 66.13,645.99" stroke="#00B4F0"/>
</g>
<rect x="30.6" y="602.5" width="72.20" height="77.60" fill="none" stroke="#777" stroke-width="0.95"/>
<line x1="28.70" y1="609.3" x2="30.6" y2="609.3" stroke="#555" stroke-width="0.9"/>
<text x="27.00" y="611.80" font-size="7.2" text-anchor="end" fill="#4d4d4d">10</text>
<line x1="28.70" y1="626.3" x2="30.6" y2="626.3" stroke="#555" stroke-width="0.9"/>
<text x="27.00" y="628.80" font-size="7.2" text-anchor="end" fill="#4d4d4d">5</text>
<line x1="28.70" y1="643.1" x2="30.6" y2="643.1" stroke="#555" stroke-width="0.9"/>
<text x="27.00" y="645.60" font-size="7.2" text-anchor="end" fill="#4d4d4d">0</text>
<line x1="28.70" y1="660.3" x2="30.6" y2="660.3" stroke="#555" stroke-width="0.9"/>
<text x="27.00" y="662.80" font-size="7.2" text-anchor="end" fill="#4d4d4d">−5</text>
<line x1="28.70" y1="677.3" x2="30.6" y2="677.3" stroke="#555" stroke-width="0.9"/>
<text x="27.00" y="679.80" font-size="7.2" text-anchor="end" fill="#4d4d4d">−10</text>
<line x1="33.5" y1="680.1" x2="33.5" y2="682.00" stroke="#555" stroke-width="0.9"/>
<text x="33.5" y="689.60" font-size="7.2" text-anchor="middle" fill="#4d4d4d">0</text>
<line x1="55.2" y1="680.1" x2="55.2" y2="682.00" stroke="#555" stroke-width="0.9"/>
<text x="55.2" y="689.60" font-size="7.2" text-anchor="middle" fill="#4d4d4d">100</text>
<line x1="76.9" y1="680.1" x2="76.9" y2="682.00" stroke="#555" stroke-width="0.9"/>
<text x="76.9" y="689.60" font-size="7.2" text-anchor="middle" fill="#4d4d4d">200</text>
<line x1="98.6" y1="680.1" x2="98.6" y2="682.00" stroke="#555" stroke-width="0.9"/>
<text x="98.6" y="689.60" font-size="7.2" text-anchor="middle" fill="#4d4d4d">300</text>
<text x="66.70" y="698.70" font-size="7.3" text-anchor="middle" fill="#000">Days from Baseline</text>
<text transform="translate(10.90,641.30) rotate(-90)" font-size="7.35" text-anchor="middle" fill="#000">Methylation Age Change</text>
<text x="67.30" y="598.3" font-size="9.5" font-weight="bold" text-anchor="middle">Horvath1</text>
<clipPath id="c136602"><rect x="136.4" y="602.4" width="72.19999999999999" height="77.70000000000005"/></clipPath>
<g clip-path="url(#c136602)" fill="none" stroke-opacity="0.82" stroke-width="1.1" stroke-linejoin="round" stroke-linecap="round">
<polyline points="139.33,644.38 153.42,632.40 187.81,637.17" stroke="#F8766D"/>
<polyline points="139.33,644.38 161.74,639.94 178.38,635.50 205.01,635.28" stroke="#B79F00"/>
<polyline points="139.33,644.38 162.85,638.83 177.83,632.40" stroke="#00BA38"/>
<polyline points="139.33,644.38 162.85,644.94 176.72,660.47" stroke="#7CAE00"/>
<polyline points="139.33,644.38 160.63,653.48 184.48,648.49" stroke="#00C08B"/>
<polyline points="139.33,644.38 148.42,647.71 170.61,649.37" stroke="#DE8C00"/>
<polyline points="139.33,644.38 157.85,638.28 178.38,641.05" stroke="#00BFC4"/>
<polyline points="139.33,644.38 158.41,638.83 170.61,637.72" stroke="#00C08B"/>
<polyline points="139.33,644.38 167.29,642.16 180.60,641.61" stroke="#00B4F0"/>
<polyline points="139.33,644.38 151.75,646.04 176.72,646.04" stroke="#C77CFF"/>
<polyline points="139.33,644.38 161.74,645.71 187.81,642.16" stroke="#F564E3"/>
<polyline points="139.33,644.38 148.42,648.26 176.16,644.38" stroke="#619CFF"/>
</g>
<rect x="136.4" y="602.4" width="72.20" height="77.70" fill="none" stroke="#777" stroke-width="0.95"/>
<line x1="134.50" y1="612.4" x2="136.4" y2="612.4" stroke="#555" stroke-width="0.9"/>
<text x="132.80" y="614.90" font-size="7.2" text-anchor="end" fill="#4d4d4d">10</text>
<line x1="134.50" y1="628.3" x2="136.4" y2="628.3" stroke="#555" stroke-width="0.9"/>
<text x="132.80" y="630.80" font-size="7.2" text-anchor="end" fill="#4d4d4d">5</text>
<line x1="134.50" y1="644.4" x2="136.4" y2="644.4" stroke="#555" stroke-width="0.9"/>
<text x="132.80" y="646.90" font-size="7.2" text-anchor="end" fill="#4d4d4d">0</text>
<line x1="134.50" y1="660.5" x2="136.4" y2="660.5" stroke="#555" stroke-width="0.9"/>
<text x="132.80" y="663.00" font-size="7.2" text-anchor="end" fill="#4d4d4d">−5</text>
<line x1="134.50" y1="676.6" x2="136.4" y2="676.6" stroke="#555" stroke-width="0.9"/>
<text x="132.80" y="679.10" font-size="7.2" text-anchor="end" fill="#4d4d4d">−10</text>
<line x1="139.3" y1="680.1" x2="139.3" y2="682.00" stroke="#555" stroke-width="0.9"/>
<text x="139.3" y="689.60" font-size="7.2" text-anchor="middle" fill="#4d4d4d">0</text>
<line x1="160.6" y1="680.1" x2="160.6" y2="682.00" stroke="#555" stroke-width="0.9"/>
<text x="160.6" y="689.60" font-size="7.2" text-anchor="middle" fill="#4d4d4d">100</text>
<line x1="182.3" y1="680.1" x2="182.3" y2="682.00" stroke="#555" stroke-width="0.9"/>
<text x="182.3" y="689.60" font-size="7.2" text-anchor="middle" fill="#4d4d4d">200</text>
<line x1="203.7" y1="680.1" x2="203.7" y2="682.00" stroke="#555" stroke-width="0.9"/>
<text x="203.7" y="689.60" font-size="7.2" text-anchor="middle" fill="#4d4d4d">300</text>
<text x="172.50" y="698.70" font-size="7.3" text-anchor="middle" fill="#000">Days from Baseline</text>
<text transform="translate(116.70,641.25) rotate(-90)" font-size="7.35" text-anchor="middle" fill="#000">Methylation Age Change</text>
<text x="173.10" y="598.3" font-size="9.5" font-weight="bold" text-anchor="middle">Horvath2</text>
<clipPath id="c242602"><rect x="242.4" y="602.4" width="71.9" height="77.70000000000005"/></clipPath>
<g clip-path="url(#c242602)" fill="none" stroke-opacity="0.82" stroke-width="1.1" stroke-linejoin="round" stroke-linecap="round">
<polyline points="244.99,643.27 257.20,614.20 293.81,632.40" stroke="#F8766D"/>
<polyline points="244.99,643.27 259.97,626.30" stroke="#F564E3"/>
<polyline points="244.99,643.27 263.30,626.30 287.71,635.73" stroke="#00B4F0"/>
<polyline points="244.99,643.27 265.52,635.28 282.72,638.83" stroke="#7CAE00"/>
<polyline points="244.99,643.27 261.64,635.73 282.16,639.72" stroke="#619CFF"/>
<polyline points="244.99,643.27 273.29,642.16 283.27,641.27" stroke="#00BA38"/>
<polyline points="244.99,643.27 267.74,642.49 283.27,642.72" stroke="#00C08B"/>
<polyline points="244.99,643.27 258.31,653.26 280.50,652.70" stroke="#DE8C00"/>
<polyline points="244.99,643.27 266.41,665.24 290.48,653.03" stroke="#00C08B"/>
<polyline points="244.99,643.27 286.60,643.27 311.01,657.14" stroke="#B79F00"/>
<polyline points="244.99,643.27 261.08,650.48 286.60,641.27" stroke="#C77CFF"/>
<polyline points="244.99,643.27 273.29,646.60 293.26,647.71" stroke="#FF64B0"/>
</g>
<rect x="242.4" y="602.4" width="71.90" height="77.70" fill="none" stroke="#777" stroke-width="0.95"/>
<line x1="240.50" y1="609.1" x2="242.4" y2="609.1" stroke="#555" stroke-width="0.9"/>
<text x="238.80" y="611.60" font-size="7.2" text-anchor="end" fill="#4d4d4d">10</text>
<line x1="240.50" y1="626.3" x2="242.4" y2="626.3" stroke="#555" stroke-width="0.9"/>
<text x="238.80" y="628.80" font-size="7.2" text-anchor="end" fill="#4d4d4d">5</text>
<line x1="240.50" y1="643.3" x2="242.4" y2="643.3" stroke="#555" stroke-width="0.9"/>
<text x="238.80" y="645.80" font-size="7.2" text-anchor="end" fill="#4d4d4d">0</text>
<line x1="240.50" y1="660.2" x2="242.4" y2="660.2" stroke="#555" stroke-width="0.9"/>
<text x="238.80" y="662.70" font-size="7.2" text-anchor="end" fill="#4d4d4d">−5</text>
<line x1="240.50" y1="676.8" x2="242.4" y2="676.8" stroke="#555" stroke-width="0.9"/>
<text x="238.80" y="679.30" font-size="7.2" text-anchor="end" fill="#4d4d4d">−10</text>
<line x1="245.0" y1="680.1" x2="245.0" y2="682.00" stroke="#555" stroke-width="0.9"/>
<text x="245.0" y="689.60" font-size="7.2" text-anchor="middle" fill="#4d4d4d">0</text>
<line x1="266.4" y1="680.1" x2="266.4" y2="682.00" stroke="#555" stroke-width="0.9"/>
<text x="266.4" y="689.60" font-size="7.2" text-anchor="middle" fill="#4d4d4d">100</text>
<line x1="287.9" y1="680.1" x2="287.9" y2="682.00" stroke="#555" stroke-width="0.9"/>
<text x="287.9" y="689.60" font-size="7.2" text-anchor="middle" fill="#4d4d4d">200</text>
<line x1="309.6" y1="680.1" x2="309.6" y2="682.00" stroke="#555" stroke-width="0.9"/>
<text x="309.6" y="689.60" font-size="7.2" text-anchor="middle" fill="#4d4d4d">300</text>
<text x="278.35" y="698.70" font-size="7.3" text-anchor="middle" fill="#000">Days from Baseline</text>
<text transform="translate(222.70,641.25) rotate(-90)" font-size="7.35" text-anchor="middle" fill="#000">Methylation Age Change</text>
<text x="278.95" y="598.3" font-size="9.5" font-weight="bold" text-anchor="middle">Hannum</text>
<clipPath id="c348602"><rect x="348.2" y="602.4" width="71.90000000000003" height="77.70000000000005"/></clipPath>
<g clip-path="url(#c348602)" fill="none" stroke-opacity="0.82" stroke-width="1.1" stroke-linejoin="round" stroke-linecap="round">
<polyline points="350.99,648.04 369.30,629.07 395.93,645.49" stroke="#00B4F0"/>
<polyline points="350.99,648.04 367.64,634.95 392.60,652.70" stroke="#F564E3"/>
<polyline points="350.99,648.04 393.71,632.18 417.01,647.71" stroke="#B79F00"/>
<polyline points="350.99,648.04 373.74,641.05 398.15,635.50" stroke="#F8766D"/>
<polyline points="350.99,648.04 370.41,638.83 389.83,655.48" stroke="#00BA38"/>
<polyline points="350.99,648.04 370.41,639.05 388.16,637.17" stroke="#7CAE00"/>
<polyline points="350.99,648.04 372.63,665.46 388.72,660.47" stroke="#A3A500"/>
<polyline points="350.99,648.04 365.42,655.48 382.61,650.48" stroke="#FF64B0"/>
<polyline points="350.99,648.04 368.19,648.26 388.72,641.94" stroke="#619CFF"/>
<polyline points="350.99,648.04 372.63,653.26 382.61,650.48" stroke="#00C08B"/>
<polyline points="350.99,648.04 373.74,644.38 395.93,644.94" stroke="#00BFC4"/>
<polyline points="350.99,648.04 379.29,646.60 399.26,643.27" stroke="#C77CFF"/>
</g>
<rect x="348.2" y="602.4" width="71.90" height="77.70" fill="none" stroke="#777" stroke-width="0.95"/>
<line x1="346.30" y1="609.4" x2="348.2" y2="609.4" stroke="#555" stroke-width="0.9"/>
<text x="344.60" y="611.90" font-size="7.2" text-anchor="end" fill="#4d4d4d">20</text>
<line x1="346.30" y1="628.8" x2="348.2" y2="628.8" stroke="#555" stroke-width="0.9"/>
<text x="344.60" y="631.30" font-size="7.2" text-anchor="end" fill="#4d4d4d">10</text>
<line x1="346.30" y1="648.0" x2="348.2" y2="648.0" stroke="#555" stroke-width="0.9"/>
<text x="344.60" y="650.50" font-size="7.2" text-anchor="end" fill="#4d4d4d">0</text>
<line x1="346.30" y1="667.1" x2="348.2" y2="667.1" stroke="#555" stroke-width="0.9"/>
<text x="344.60" y="669.60" font-size="7.2" text-anchor="end" fill="#4d4d4d">−10</text>
<line x1="351.0" y1="680.1" x2="351.0" y2="682.00" stroke="#555" stroke-width="0.9"/>
<text x="351.0" y="689.60" font-size="7.2" text-anchor="middle" fill="#4d4d4d">0</text>
<line x1="372.4" y1="680.1" x2="372.4" y2="682.00" stroke="#555" stroke-width="0.9"/>
<text x="372.4" y="689.60" font-size="7.2" text-anchor="middle" fill="#4d4d4d">100</text>
<line x1="393.9" y1="680.1" x2="393.9" y2="682.00" stroke="#555" stroke-width="0.9"/>
<text x="393.9" y="689.60" font-size="7.2" text-anchor="middle" fill="#4d4d4d">200</text>
<line x1="415.6" y1="680.1" x2="415.6" y2="682.00" stroke="#555" stroke-width="0.9"/>
<text x="415.6" y="689.60" font-size="7.2" text-anchor="middle" fill="#4d4d4d">300</text>
<text x="384.15" y="698.70" font-size="7.3" text-anchor="middle" fill="#000">Days from Baseline</text>
<text transform="translate(328.50,641.25) rotate(-90)" font-size="7.35" text-anchor="middle" fill="#000">Methylation Age Change</text>
<text x="384.75" y="598.3" font-size="9.5" font-weight="bold" text-anchor="middle">PhenoAge</text>
<clipPath id="c456602"><rect x="456.0" y="602.4" width="70.10000000000002" height="77.70000000000005"/></clipPath>
<g clip-path="url(#c456602)" fill="none" stroke-opacity="0.82" stroke-width="1.1" stroke-linejoin="round" stroke-linecap="round">
<polyline points="458.44,641.38 475.08,624.41 499.49,625.30" stroke="#F564E3"/>
<polyline points="458.44,641.38 471.75,645.49 505.59,628.29" stroke="#FF64B0"/>
<polyline points="458.44,641.38 483.96,630.51 498.38,631.07" stroke="#00BA38"/>
<polyline points="458.44,641.38 481.74,632.18 496.16,637.17 502.82,636.61" stroke="#7CAE00"/>
<polyline points="458.44,641.38 522.79,635.28" stroke="#B79F00"/>
<polyline points="458.44,641.38 482.85,633.29 500.60,629.96" stroke="#00C08B"/>
<polyline points="458.44,641.38 477.30,650.48 496.16,648.26" stroke="#00BFC4"/>
<polyline points="458.44,641.38 475.08,657.47 495.61,651.26" stroke="#8B93FF"/>
<polyline points="458.44,641.38 470.64,643.27 505.04,636.61" stroke="#F8766D"/>
<polyline points="458.44,641.38 469.53,643.27 503.93,637.17" stroke="#DE8C00"/>
<polyline points="458.44,641.38 467.31,648.82 471.75,646.60" stroke="#C77CFF"/>
<polyline points="458.44,641.38 487.29,632.18 498.38,631.07" stroke="#00B4F0"/>
</g>
<rect x="456.0" y="602.4" width="70.10" height="77.70" fill="none" stroke="#777" stroke-width="0.95"/>
<line x1="454.10" y1="606.2" x2="456.0" y2="606.2" stroke="#555" stroke-width="0.9"/>
<text x="452.40" y="608.70" font-size="7.2" text-anchor="end" fill="#4d4d4d">0.4</text>
<line x1="454.10" y1="624.0" x2="456.0" y2="624.0" stroke="#555" stroke-width="0.9"/>
<text x="452.40" y="626.50" font-size="7.2" text-anchor="end" fill="#4d4d4d">0.2</text>
<line x1="454.10" y1="641.8" x2="456.0" y2="641.8" stroke="#555" stroke-width="0.9"/>
<text x="452.40" y="644.30" font-size="7.2" text-anchor="end" fill="#4d4d4d">0.0</text>
<line x1="454.10" y1="659.6" x2="456.0" y2="659.6" stroke="#555" stroke-width="0.9"/>
<text x="452.40" y="662.10" font-size="7.2" text-anchor="end" fill="#4d4d4d">−0.2</text>
<line x1="454.10" y1="677.2" x2="456.0" y2="677.2" stroke="#555" stroke-width="0.9"/>
<text x="452.40" y="679.70" font-size="7.2" text-anchor="end" fill="#4d4d4d">−0.4</text>
<line x1="458.4" y1="680.1" x2="458.4" y2="682.00" stroke="#555" stroke-width="0.9"/>
<text x="458.4" y="689.60" font-size="7.2" text-anchor="middle" fill="#4d4d4d">0</text>
<line x1="479.5" y1="680.1" x2="479.5" y2="682.00" stroke="#555" stroke-width="0.9"/>
<text x="479.5" y="689.60" font-size="7.2" text-anchor="middle" fill="#4d4d4d">100</text>
<line x1="500.6" y1="680.1" x2="500.6" y2="682.00" stroke="#555" stroke-width="0.9"/>
<text x="500.6" y="689.60" font-size="7.2" text-anchor="middle" fill="#4d4d4d">200</text>
<line x1="521.7" y1="680.1" x2="521.7" y2="682.00" stroke="#555" stroke-width="0.9"/>
<text x="521.7" y="689.60" font-size="7.2" text-anchor="middle" fill="#4d4d4d">300</text>
<text x="491.05" y="698.70" font-size="7.3" text-anchor="middle" fill="#000">Days from Baseline</text>
<text transform="translate(434.50,641.25) rotate(-90)" font-size="7.35" text-anchor="middle" fill="#000">Methylation Age Change</text>
<text x="491.65" y="598.3" font-size="9.5" font-weight="bold" text-anchor="middle">DNAmTL</text>
<clipPath id="c559602"><rect x="559.4" y="602.4" width="72.20000000000005" height="77.70000000000005"/></clipPath>
<g clip-path="url(#c559602)" fill="none" stroke-opacity="0.82" stroke-width="1.1" stroke-linejoin="round" stroke-linecap="round">
<polyline points="562.55,641.27 584.18,632.18 601.38,610.21" stroke="#00BA38"/>
<polyline points="562.55,641.27 574.75,625.30 610.81,633.06" stroke="#F8766D"/>
<polyline points="562.55,641.27 582.52,631.62 605.82,635.28" stroke="#00B4F0"/>
<polyline points="562.55,641.27 583.63,632.40 601.38,635.50" stroke="#00BFC4"/>
<polyline points="562.55,641.27 584.74,638.28 601.38,637.72" stroke="#619CFF"/>
<polyline points="562.55,641.27 629.12,642.38" stroke="#B79F00"/>
<polyline points="562.55,641.27 584.74,642.16 598.05,644.38" stroke="#7CAE00"/>
<polyline points="562.55,641.27 590.29,641.05 610.81,641.94" stroke="#FF64B0"/>
<polyline points="562.55,641.27 576.97,651.04" stroke="#F564E3"/>
<polyline points="562.55,641.27 579.19,646.38 604.71,647.71" stroke="#C77CFF"/>
<polyline points="562.55,641.27 590.29,645.71 601.38,637.72" stroke="#00C08B"/>
<polyline points="562.55,641.27 582.52,644.38 608.04,649.60" stroke="#00BFC4"/>
</g>
<rect x="559.4" y="602.4" width="72.20" height="77.70" fill="none" stroke="#777" stroke-width="0.95"/>
<line x1="557.50" y1="605.3" x2="559.4" y2="605.3" stroke="#555" stroke-width="0.9"/>
<text x="555.80" y="607.80" font-size="7.2" text-anchor="end" fill="#4d4d4d">10</text>
<line x1="557.50" y1="623.3" x2="559.4" y2="623.3" stroke="#555" stroke-width="0.9"/>
<text x="555.80" y="625.80" font-size="7.2" text-anchor="end" fill="#4d4d4d">5</text>
<line x1="557.50" y1="641.3" x2="559.4" y2="641.3" stroke="#555" stroke-width="0.9"/>
<text x="555.80" y="643.80" font-size="7.2" text-anchor="end" fill="#4d4d4d">0</text>
<line x1="557.50" y1="659.4" x2="559.4" y2="659.4" stroke="#555" stroke-width="0.9"/>
<text x="555.80" y="661.90" font-size="7.2" text-anchor="end" fill="#4d4d4d">−5</text>
<line x1="557.50" y1="676.8" x2="559.4" y2="676.8" stroke="#555" stroke-width="0.9"/>
<text x="555.80" y="679.30" font-size="7.2" text-anchor="end" fill="#4d4d4d">−10</text>
<line x1="562.5" y1="680.1" x2="562.5" y2="682.00" stroke="#555" stroke-width="0.9"/>
<text x="562.5" y="689.60" font-size="7.2" text-anchor="middle" fill="#4d4d4d">0</text>
<line x1="584.2" y1="680.1" x2="584.2" y2="682.00" stroke="#555" stroke-width="0.9"/>
<text x="584.2" y="689.60" font-size="7.2" text-anchor="middle" fill="#4d4d4d">100</text>
<line x1="605.5" y1="680.1" x2="605.5" y2="682.00" stroke="#555" stroke-width="0.9"/>
<text x="605.5" y="689.60" font-size="7.2" text-anchor="middle" fill="#4d4d4d">200</text>
<line x1="627.1" y1="680.1" x2="627.1" y2="682.00" stroke="#555" stroke-width="0.9"/>
<text x="627.1" y="689.60" font-size="7.2" text-anchor="middle" fill="#4d4d4d">300</text>
<text x="595.50" y="698.70" font-size="7.3" text-anchor="middle" fill="#000">Days from Baseline</text>
<text transform="translate(539.70,641.25) rotate(-90)" font-size="7.35" text-anchor="middle" fill="#000">Methylation Age Change</text>
<text x="596.10" y="598.3" font-size="9.5" font-weight="bold" text-anchor="middle">GrimAge</text>
<clipPath id="c30708"><rect x="30.5" y="708.4" width="72.0" height="77.70000000000005"/></clipPath>
<g clip-path="url(#c30708)" fill="none" stroke-opacity="0.82" stroke-width="1.1" stroke-linejoin="round" stroke-linecap="round">
<polyline points="33.33,748.72 46.64,737.07 70.72,747.27" stroke="#DE8C00"/>
<polyline points="33.33,748.72 72.38,750.38 99.56,750.94" stroke="#B79F00"/>
<polyline points="33.33,748.72 42.42,755.93 81.81,755.93" stroke="#F564E3"/>
<polyline points="33.33,748.72 55.74,752.04 70.72,758.37" stroke="#7CAE00"/>
<polyline points="33.33,748.72 59.07,742.06 71.27,747.61" stroke="#00BA38"/>
<polyline points="33.33,748.72 56.85,742.61 79.04,744.61" stroke="#00C08B"/>
<polyline points="33.33,748.72 61.29,748.72 81.81,746.16" stroke="#F8766D"/>
<polyline points="33.33,748.72 52.41,744.28 76.26,752.38" stroke="#00B4F0"/>
<polyline points="33.33,748.72 50.19,744.83 72.38,748.16" stroke="#619CFF"/>
<polyline points="33.33,748.72 44.64,748.16 74.60,750.38" stroke="#C77CFF"/>
<polyline points="33.33,748.72 53.52,744.28 70.16,747.61" stroke="#00BFC4"/>
<polyline points="33.33,748.72 53.52,748.72 61.29,748.16" stroke="#DE8C00"/>
</g>
<rect x="30.5" y="708.4" width="72.00" height="77.70" fill="none" stroke="#777" stroke-width="0.95"/>
<line x1="28.60" y1="714.7" x2="30.5" y2="714.7" stroke="#555" stroke-width="0.9"/>
<text x="26.90" y="717.20" font-size="7.2" text-anchor="end" fill="#4d4d4d">10</text>
<line x1="28.60" y1="731.7" x2="30.5" y2="731.7" stroke="#555" stroke-width="0.9"/>
<text x="26.90" y="734.20" font-size="7.2" text-anchor="end" fill="#4d4d4d">5</text>
<line x1="28.60" y1="748.7" x2="30.5" y2="748.7" stroke="#555" stroke-width="0.9"/>
<text x="26.90" y="751.20" font-size="7.2" text-anchor="end" fill="#4d4d4d">0</text>
<line x1="28.60" y1="765.7" x2="30.5" y2="765.7" stroke="#555" stroke-width="0.9"/>
<text x="26.90" y="768.20" font-size="7.2" text-anchor="end" fill="#4d4d4d">−5</text>
<line x1="28.60" y1="782.6" x2="30.5" y2="782.6" stroke="#555" stroke-width="0.9"/>
<text x="26.90" y="785.10" font-size="7.2" text-anchor="end" fill="#4d4d4d">−10</text>
<line x1="33.5" y1="786.1" x2="33.5" y2="788.00" stroke="#555" stroke-width="0.9"/>
<text x="33.5" y="795.60" font-size="7.2" text-anchor="middle" fill="#4d4d4d">0</text>
<line x1="55.2" y1="786.1" x2="55.2" y2="788.00" stroke="#555" stroke-width="0.9"/>
<text x="55.2" y="795.60" font-size="7.2" text-anchor="middle" fill="#4d4d4d">100</text>
<line x1="76.9" y1="786.1" x2="76.9" y2="788.00" stroke="#555" stroke-width="0.9"/>
<text x="76.9" y="795.60" font-size="7.2" text-anchor="middle" fill="#4d4d4d">200</text>
<line x1="98.6" y1="786.1" x2="98.6" y2="788.00" stroke="#555" stroke-width="0.9"/>
<text x="98.6" y="795.60" font-size="7.2" text-anchor="middle" fill="#4d4d4d">300</text>
<text x="66.50" y="804.70" font-size="7.3" text-anchor="middle" fill="#000">Days from Baseline</text>
<text transform="translate(10.80,747.25) rotate(-90)" font-size="7.35" text-anchor="middle" fill="#000">Methylation Age Change</text>
<clipPath id="c136708"><rect x="136.4" y="708.4" width="72.19999999999999" height="77.70000000000005"/></clipPath>
<g clip-path="url(#c136708)" fill="none" stroke-opacity="0.82" stroke-width="1.1" stroke-linejoin="round" stroke-linecap="round">
<polyline points="139.33,750.38 152.31,735.73 175.61,748.16" stroke="#DE8C00"/>
<polyline points="139.33,750.38 178.38,749.27 205.56,753.49" stroke="#B79F00"/>
<polyline points="139.33,750.38 148.98,759.26 187.81,761.48" stroke="#F564E3"/>
<polyline points="139.33,750.38 161.74,753.71 176.72,759.03" stroke="#7CAE00"/>
<polyline points="139.33,750.38 166.18,744.28 175.05,747.61" stroke="#00BA38"/>
<polyline points="139.33,750.38 161.74,745.94 185.04,753.71" stroke="#00C08B"/>
<polyline points="139.33,750.38 156.19,748.16 185.04,753.15" stroke="#00BFC4"/>
<polyline points="139.33,750.38 178.38,748.72 187.81,747.61" stroke="#F8766D"/>
<polyline points="139.33,750.38 161.74,752.60 180.60,757.04" stroke="#C77CFF"/>
<polyline points="139.33,750.38 150.64,749.27 176.16,749.83" stroke="#619CFF"/>
<polyline points="139.33,750.38 167.29,749.83 182.82,752.60" stroke="#00B4F0"/>
<polyline points="139.33,750.38 151.75,751.49 167.29,752.60" stroke="#FF64B0"/>
</g>
<rect x="136.4" y="708.4" width="72.20" height="77.70" fill="none" stroke="#777" stroke-width="0.95"/>
<line x1="134.50" y1="718.4" x2="136.4" y2="718.4" stroke="#555" stroke-width="0.9"/>
<text x="132.80" y="720.90" font-size="7.2" text-anchor="end" fill="#4d4d4d">10</text>
<line x1="134.50" y1="734.3" x2="136.4" y2="734.3" stroke="#555" stroke-width="0.9"/>
<text x="132.80" y="736.80" font-size="7.2" text-anchor="end" fill="#4d4d4d">5</text>
<line x1="134.50" y1="750.4" x2="136.4" y2="750.4" stroke="#555" stroke-width="0.9"/>
<text x="132.80" y="752.90" font-size="7.2" text-anchor="end" fill="#4d4d4d">0</text>
<line x1="134.50" y1="766.5" x2="136.4" y2="766.5" stroke="#555" stroke-width="0.9"/>
<text x="132.80" y="769.00" font-size="7.2" text-anchor="end" fill="#4d4d4d">−5</text>
<line x1="134.50" y1="782.6" x2="136.4" y2="782.6" stroke="#555" stroke-width="0.9"/>
<text x="132.80" y="785.10" font-size="7.2" text-anchor="end" fill="#4d4d4d">−10</text>
<line x1="139.3" y1="786.1" x2="139.3" y2="788.00" stroke="#555" stroke-width="0.9"/>
<text x="139.3" y="795.60" font-size="7.2" text-anchor="middle" fill="#4d4d4d">0</text>
<line x1="160.6" y1="786.1" x2="160.6" y2="788.00" stroke="#555" stroke-width="0.9"/>
<text x="160.6" y="795.60" font-size="7.2" text-anchor="middle" fill="#4d4d4d">100</text>
<line x1="182.3" y1="786.1" x2="182.3" y2="788.00" stroke="#555" stroke-width="0.9"/>
<text x="182.3" y="795.60" font-size="7.2" text-anchor="middle" fill="#4d4d4d">200</text>
<line x1="203.7" y1="786.1" x2="203.7" y2="788.00" stroke="#555" stroke-width="0.9"/>
<text x="203.7" y="795.60" font-size="7.2" text-anchor="middle" fill="#4d4d4d">300</text>
<text x="172.50" y="804.70" font-size="7.3" text-anchor="middle" fill="#000">Days from Baseline</text>
<text transform="translate(116.70,747.25) rotate(-90)" font-size="7.35" text-anchor="middle" fill="#000">Methylation Age Change</text>
<clipPath id="c242708"><rect x="242.4" y="708.4" width="71.9" height="77.70000000000005"/></clipPath>
<g clip-path="url(#c242708)" fill="none" stroke-opacity="0.82" stroke-width="1.1" stroke-linejoin="round" stroke-linecap="round">
<polyline points="244.99,748.72 263.30,739.06 284.38,744.28" stroke="#00B4F0"/>
<polyline points="244.99,748.72 267.74,742.61 283.83,738.40" stroke="#00BA38"/>
<polyline points="244.99,748.72 273.29,742.61 282.72,741.50" stroke="#7CAE00"/>
<polyline points="244.99,748.72 257.75,741.50 283.27,744.83" stroke="#00C08B"/>
<polyline points="244.99,748.72 284.38,745.39 311.56,746.16" stroke="#B79F00"/>
<polyline points="244.99,748.72 273.29,745.94 293.26,748.38" stroke="#F8766D"/>
<polyline points="244.99,748.72 265.52,750.94 284.38,744.83" stroke="#00BFC4"/>
<polyline points="244.99,748.72 267.74,753.71 293.26,753.15" stroke="#F564E3"/>
<polyline points="244.99,748.72 262.19,752.60 286.60,757.59" stroke="#C77CFF"/>
<polyline points="244.99,748.72 267.74,752.60 280.50,759.81" stroke="#DE8C00"/>
<polyline points="244.99,748.72 273.29,750.38 288.82,752.60" stroke="#619CFF"/>
<polyline points="244.99,748.72 257.75,751.49 273.29,753.15" stroke="#FF64B0"/>
</g>
<rect x="242.4" y="708.4" width="71.90" height="77.70" fill="none" stroke="#777" stroke-width="0.95"/>
<line x1="240.50" y1="714.9" x2="242.4" y2="714.9" stroke="#555" stroke-width="0.9"/>
<text x="238.80" y="717.40" font-size="7.2" text-anchor="end" fill="#4d4d4d">10</text>
<line x1="240.50" y1="731.9" x2="242.4" y2="731.9" stroke="#555" stroke-width="0.9"/>
<text x="238.80" y="734.40" font-size="7.2" text-anchor="end" fill="#4d4d4d">5</text>
<line x1="240.50" y1="748.7" x2="242.4" y2="748.7" stroke="#555" stroke-width="0.9"/>
<text x="238.80" y="751.20" font-size="7.2" text-anchor="end" fill="#4d4d4d">0</text>
<line x1="240.50" y1="765.7" x2="242.4" y2="765.7" stroke="#555" stroke-width="0.9"/>
<text x="238.80" y="768.20" font-size="7.2" text-anchor="end" fill="#4d4d4d">−5</text>
<line x1="240.50" y1="782.6" x2="242.4" y2="782.6" stroke="#555" stroke-width="0.9"/>
<text x="238.80" y="785.10" font-size="7.2" text-anchor="end" fill="#4d4d4d">−10</text>
<line x1="245.0" y1="786.1" x2="245.0" y2="788.00" stroke="#555" stroke-width="0.9"/>
<text x="245.0" y="795.60" font-size="7.2" text-anchor="middle" fill="#4d4d4d">0</text>
<line x1="266.4" y1="786.1" x2="266.4" y2="788.00" stroke="#555" stroke-width="0.9"/>
<text x="266.4" y="795.60" font-size="7.2" text-anchor="middle" fill="#4d4d4d">100</text>
<line x1="287.9" y1="786.1" x2="287.9" y2="788.00" stroke="#555" stroke-width="0.9"/>
<text x="287.9" y="795.60" font-size="7.2" text-anchor="middle" fill="#4d4d4d">200</text>
<line x1="309.6" y1="786.1" x2="309.6" y2="788.00" stroke="#555" stroke-width="0.9"/>
<text x="309.6" y="795.60" font-size="7.2" text-anchor="middle" fill="#4d4d4d">300</text>
<text x="278.35" y="804.70" font-size="7.3" text-anchor="middle" fill="#000">Days from Baseline</text>
<text transform="translate(222.70,747.25) rotate(-90)" font-size="7.35" text-anchor="middle" fill="#000">Methylation Age Change</text>
<clipPath id="c348708"><rect x="348.2" y="708.4" width="71.90000000000003" height="77.70000000000005"/></clipPath>
<g clip-path="url(#c348708)" fill="none" stroke-opacity="0.82" stroke-width="1.1" stroke-linejoin="round" stroke-linecap="round">
<polyline points="350.99,753.71 363.20,742.95 399.26,751.49" stroke="#F8766D"/>
<polyline points="350.99,753.71 373.74,748.16 388.72,742.84" stroke="#7CAE00"/>
<polyline points="350.99,753.71 371.52,748.16 389.27,745.39" stroke="#00BA38"/>
<polyline points="350.99,753.71 399.26,751.49 417.01,750.38" stroke="#B79F00"/>
<polyline points="350.99,753.71 368.19,745.94 393.71,752.60" stroke="#00B4F0"/>
<polyline points="350.99,753.71 379.29,750.38 394.82,750.94" stroke="#619CFF"/>
<polyline points="350.99,753.71 371.52,752.60 396.48,757.59" stroke="#00C08B"/>
<polyline points="350.99,753.71 379.29,754.82 396.48,757.04" stroke="#00BFC4"/>
<polyline points="350.99,753.71 373.74,758.15 392.60,762.03" stroke="#C77CFF"/>
<polyline points="350.99,753.71 368.19,758.15 386.50,765.69" stroke="#DE8C00"/>
<polyline points="350.99,753.71 379.29,751.49 399.26,750.94" stroke="#F564E3"/>
<polyline points="350.99,753.71 363.75,755.37 379.29,752.60" stroke="#FF64B0"/>
</g>
<rect x="348.2" y="708.4" width="71.90" height="77.70" fill="none" stroke="#777" stroke-width="0.95"/>
<line x1="346.30" y1="715.4" x2="348.2" y2="715.4" stroke="#555" stroke-width="0.9"/>
<text x="344.60" y="717.90" font-size="7.2" text-anchor="end" fill="#4d4d4d">20</text>
<line x1="346.30" y1="734.6" x2="348.2" y2="734.6" stroke="#555" stroke-width="0.9"/>
<text x="344.60" y="737.10" font-size="7.2" text-anchor="end" fill="#4d4d4d">10</text>
<line x1="346.30" y1="753.7" x2="348.2" y2="753.7" stroke="#555" stroke-width="0.9"/>
<text x="344.60" y="756.20" font-size="7.2" text-anchor="end" fill="#4d4d4d">0</text>
<line x1="346.30" y1="772.9" x2="348.2" y2="772.9" stroke="#555" stroke-width="0.9"/>
<text x="344.60" y="775.40" font-size="7.2" text-anchor="end" fill="#4d4d4d">−10</text>
<line x1="351.0" y1="786.1" x2="351.0" y2="788.00" stroke="#555" stroke-width="0.9"/>
<text x="351.0" y="795.60" font-size="7.2" text-anchor="middle" fill="#4d4d4d">0</text>
<line x1="372.4" y1="786.1" x2="372.4" y2="788.00" stroke="#555" stroke-width="0.9"/>
<text x="372.4" y="795.60" font-size="7.2" text-anchor="middle" fill="#4d4d4d">100</text>
<line x1="393.9" y1="786.1" x2="393.9" y2="788.00" stroke="#555" stroke-width="0.9"/>
<text x="393.9" y="795.60" font-size="7.2" text-anchor="middle" fill="#4d4d4d">200</text>
<line x1="415.6" y1="786.1" x2="415.6" y2="788.00" stroke="#555" stroke-width="0.9"/>
<text x="415.6" y="795.60" font-size="7.2" text-anchor="middle" fill="#4d4d4d">300</text>
<text x="384.15" y="804.70" font-size="7.3" text-anchor="middle" fill="#000">Days from Baseline</text>
<text transform="translate(328.50,747.25) rotate(-90)" font-size="7.35" text-anchor="middle" fill="#000">Methylation Age Change</text>
<clipPath id="c456708"><rect x="456.0" y="708.4" width="70.29999999999995" height="77.70000000000005"/></clipPath>
<g clip-path="url(#c456708)" fill="none" stroke-opacity="0.82" stroke-width="1.1" stroke-linejoin="round" stroke-linecap="round">
<polyline points="458.44,747.27 468.42,741.28 505.59,740.17" stroke="#F564E3"/>
<polyline points="458.44,747.27 476.19,742.61 496.16,740.62" stroke="#C77CFF"/>
<polyline points="458.44,747.27 522.79,743.72" stroke="#B79F00"/>
<polyline points="458.44,747.27 471.75,753.71 491.72,744.28" stroke="#DE8C00"/>
<polyline points="458.44,747.27 477.85,753.71 500.60,747.05" stroke="#7CAE00"/>
<polyline points="458.44,747.27 476.19,751.49 493.94,745.94" stroke="#00BA38"/>
<polyline points="458.44,747.27 481.74,749.27 498.38,750.38" stroke="#00C08B"/>
<polyline points="458.44,747.27 487.29,749.83 496.16,750.94" stroke="#00BFC4"/>
<polyline points="458.44,747.27 482.85,748.16 501.71,747.05" stroke="#00B4F0"/>
<polyline points="458.44,747.27 487.29,748.72 505.59,749.49" stroke="#F8766D"/>
<polyline points="458.44,747.27 476.19,748.72 496.16,749.27" stroke="#619CFF"/>
</g>
<rect x="456.0" y="708.4" width="70.30" height="77.70" fill="none" stroke="#777" stroke-width="0.95"/>
<line x1="454.10" y1="711.3" x2="456.0" y2="711.3" stroke="#555" stroke-width="0.9"/>
<text x="452.40" y="713.80" font-size="7.2" text-anchor="end" fill="#4d4d4d">0.4</text>
<line x1="454.10" y1="729.3" x2="456.0" y2="729.3" stroke="#555" stroke-width="0.9"/>
<text x="452.40" y="731.80" font-size="7.2" text-anchor="end" fill="#4d4d4d">0.2</text>
<line x1="454.10" y1="747.3" x2="456.0" y2="747.3" stroke="#555" stroke-width="0.9"/>
<text x="452.40" y="749.80" font-size="7.2" text-anchor="end" fill="#4d4d4d">0.0</text>
<line x1="454.10" y1="765.0" x2="456.0" y2="765.0" stroke="#555" stroke-width="0.9"/>
<text x="452.40" y="767.50" font-size="7.2" text-anchor="end" fill="#4d4d4d">−0.2</text>
<line x1="454.10" y1="782.6" x2="456.0" y2="782.6" stroke="#555" stroke-width="0.9"/>
<text x="452.40" y="785.10" font-size="7.2" text-anchor="end" fill="#4d4d4d">−0.4</text>
<line x1="458.4" y1="786.1" x2="458.4" y2="788.00" stroke="#555" stroke-width="0.9"/>
<text x="458.4" y="795.60" font-size="7.2" text-anchor="middle" fill="#4d4d4d">0</text>
<line x1="479.5" y1="786.1" x2="479.5" y2="788.00" stroke="#555" stroke-width="0.9"/>
<text x="479.5" y="795.60" font-size="7.2" text-anchor="middle" fill="#4d4d4d">100</text>
<line x1="500.6" y1="786.1" x2="500.6" y2="788.00" stroke="#555" stroke-width="0.9"/>
<text x="500.6" y="795.60" font-size="7.2" text-anchor="middle" fill="#4d4d4d">200</text>
<line x1="521.7" y1="786.1" x2="521.7" y2="788.00" stroke="#555" stroke-width="0.9"/>
<text x="521.7" y="795.60" font-size="7.2" text-anchor="middle" fill="#4d4d4d">300</text>
<text x="491.15" y="804.70" font-size="7.3" text-anchor="middle" fill="#000">Days from Baseline</text>
<text transform="translate(434.50,747.25) rotate(-90)" font-size="7.35" text-anchor="middle" fill="#000">Methylation Age Change</text>
<clipPath id="c559708"><rect x="559.4" y="708.4" width="72.20000000000005" height="77.70000000000005"/></clipPath>
<g clip-path="url(#c559708)" fill="none" stroke-opacity="0.82" stroke-width="1.1" stroke-linejoin="round" stroke-linecap="round">
<polyline points="562.55,747.27 571.42,740.95 610.81,737.29" stroke="#F564E3"/>
<polyline points="562.55,747.27 579.19,739.29 601.38,738.18" stroke="#C77CFF"/>
<polyline points="562.55,747.27 605.82,743.72 628.56,740.17" stroke="#B79F00"/>
<polyline points="562.55,747.27 590.29,742.61 599.72,736.51" stroke="#B79F00"/>
<polyline points="562.55,747.27 584.74,744.28 600.27,739.29" stroke="#00BA38"/>
<polyline points="562.55,747.27 584.74,743.72 601.38,741.28" stroke="#00C08B"/>
<polyline points="562.55,747.27 579.19,742.61 601.38,741.50" stroke="#00B4F0"/>
<polyline points="562.55,747.27 590.29,743.72 610.81,744.61" stroke="#F8766D"/>
<polyline points="562.55,747.27 584.74,747.05 604.71,750.38" stroke="#C77CFF"/>
<polyline points="562.55,747.27 573.64,748.72 608.04,754.49" stroke="#00BFC4"/>
<polyline points="562.55,747.27 576.97,754.26" stroke="#FF64B0"/>
<polyline points="562.55,747.27 584.74,747.05 599.16,749.27" stroke="#F8766D"/>
</g>
<rect x="559.4" y="708.4" width="72.20" height="77.70" fill="none" stroke="#777" stroke-width="0.95"/>
<line x1="557.50" y1="711.3" x2="559.4" y2="711.3" stroke="#555" stroke-width="0.9"/>
<text x="555.80" y="713.80" font-size="7.2" text-anchor="end" fill="#4d4d4d">10</text>
<line x1="557.50" y1="729.3" x2="559.4" y2="729.3" stroke="#555" stroke-width="0.9"/>
<text x="555.80" y="731.80" font-size="7.2" text-anchor="end" fill="#4d4d4d">5</text>
<line x1="557.50" y1="747.3" x2="559.4" y2="747.3" stroke="#555" stroke-width="0.9"/>
<text x="555.80" y="749.80" font-size="7.2" text-anchor="end" fill="#4d4d4d">0</text>
<line x1="557.50" y1="765.0" x2="559.4" y2="765.0" stroke="#555" stroke-width="0.9"/>
<text x="555.80" y="767.50" font-size="7.2" text-anchor="end" fill="#4d4d4d">−5</text>
<line x1="557.50" y1="782.6" x2="559.4" y2="782.6" stroke="#555" stroke-width="0.9"/>
<text x="555.80" y="785.10" font-size="7.2" text-anchor="end" fill="#4d4d4d">−10</text>
<line x1="562.5" y1="786.1" x2="562.5" y2="788.00" stroke="#555" stroke-width="0.9"/>
<text x="562.5" y="795.60" font-size="7.2" text-anchor="middle" fill="#4d4d4d">0</text>
<line x1="584.2" y1="786.1" x2="584.2" y2="788.00" stroke="#555" stroke-width="0.9"/>
<text x="584.2" y="795.60" font-size="7.2" text-anchor="middle" fill="#4d4d4d">100</text>
<line x1="605.5" y1="786.1" x2="605.5" y2="788.00" stroke="#555" stroke-width="0.9"/>
<text x="605.5" y="795.60" font-size="7.2" text-anchor="middle" fill="#4d4d4d">200</text>
<line x1="627.1" y1="786.1" x2="627.1" y2="788.00" stroke="#555" stroke-width="0.9"/>
<text x="627.1" y="795.60" font-size="7.2" text-anchor="middle" fill="#4d4d4d">300</text>
<text x="595.50" y="804.70" font-size="7.3" text-anchor="middle" fill="#000">Days from Baseline</text>
<text transform="translate(539.70,747.25) rotate(-90)" font-size="7.35" text-anchor="middle" fill="#000">Methylation Age Change</text>
<text x="642.3" y="648" font-size="9.4" font-weight="bold">Original</text>
<text x="643.8" y="748.3" font-size="9.4" font-weight="bold">PC Clock</text>
</svg></body></html>
